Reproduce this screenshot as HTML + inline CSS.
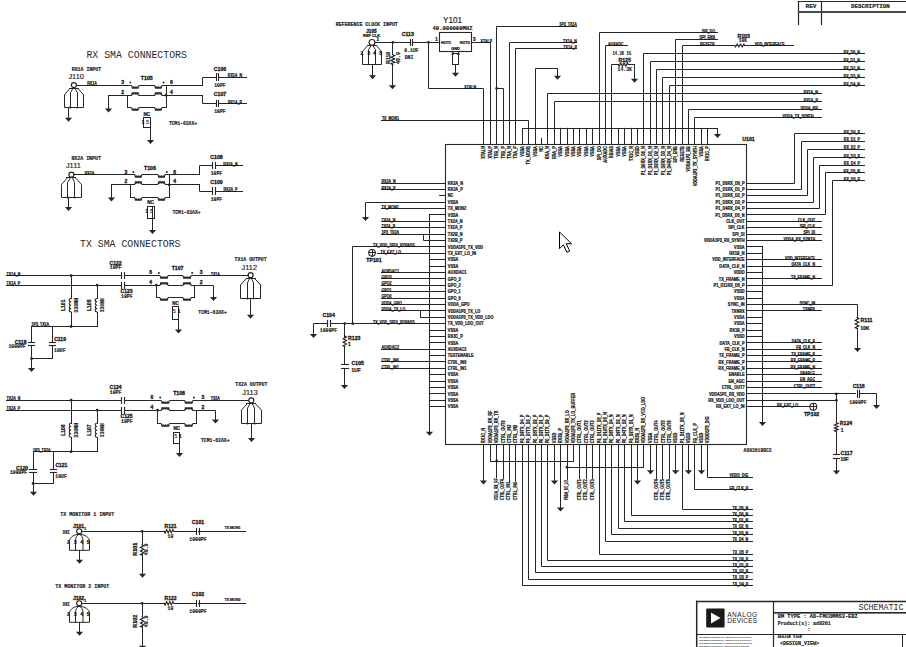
<!DOCTYPE html>
<html><head><meta charset="utf-8"><style>
html,body{margin:0;padding:0;background:#fff;width:906px;height:647px;overflow:hidden}
svg{display:block}
text{fill:#1e1e1e;stroke:#000;stroke-width:0.22px}
.b{font-family:"Liberation Sans",sans-serif;font-weight:bold}
.s{font-family:"Liberation Sans",sans-serif;stroke:#111;stroke-width:0.15px}
.sb{font-family:"Liberation Sans",sans-serif;font-weight:bold;stroke:#111;stroke-width:0.3px}
.t{stroke:none}
.s2{font-family:"Liberation Sans",sans-serif;fill:#222}
.m{font-family:"Liberation Mono",monospace;stroke:none}
.mb{font-family:"Liberation Mono",monospace;font-weight:bold;stroke:#111;stroke-width:0.15px}
.mono{font-family:"Liberation Mono",monospace;fill:#2a2a2a;stroke:none}
</style></head><body>
<svg width="906" height="647" viewBox="0 0 906 647" stroke="#262626" stroke-width="1" stroke-linecap="square">
<rect x="0" y="0" width="906" height="647" fill="#fff" stroke="none"/>
<rect x="445.5" y="144.5" width="301" height="300" fill="none" stroke-width="1.1"/>
<text x="748.5" y="140.8" font-size="5.2" class="sb" text-anchor="middle">U101</text>
<text x="757.6" y="452.3" font-size="5" class="mb" text-anchor="middle" textLength="28" lengthAdjust="spacingAndGlyphs">AD9361BBC2</text>
<text x="485.5" y="146.1" font-size="4.5" class="b" text-anchor="end" transform="rotate(-90 485.5 146.1)" textLength="12.61" lengthAdjust="spacingAndGlyphs">XTALN</text>
<text x="491.9" y="146.1" font-size="4.5" class="b" text-anchor="end" transform="rotate(-90 491.9 146.1)" textLength="12.40" lengthAdjust="spacingAndGlyphs">XTALP</text>
<text x="498.29" y="146.1" font-size="4.5" class="b" text-anchor="end" transform="rotate(-90 498.29 146.1)" textLength="12.69" lengthAdjust="spacingAndGlyphs">TXB_N</text>
<text x="504.69" y="146.1" font-size="4.5" class="b" text-anchor="end" transform="rotate(-90 504.69 146.1)" textLength="12.47" lengthAdjust="spacingAndGlyphs">TXB_P</text>
<text x="511.08" y="146.1" font-size="4.5" class="b" text-anchor="end" transform="rotate(-90 511.08 146.1)" textLength="12.69" lengthAdjust="spacingAndGlyphs">TXA_N</text>
<text x="517.48" y="146.1" font-size="4.5" class="b" text-anchor="end" transform="rotate(-90 517.48 146.1)" textLength="12.47" lengthAdjust="spacingAndGlyphs">TXA_P</text>
<text x="523.88" y="146.1" font-size="4.5" class="b" text-anchor="end" transform="rotate(-90 523.88 146.1)" textLength="10.54" lengthAdjust="spacingAndGlyphs">VSSA</text>
<text x="530.27" y="146.1" font-size="4.5" class="b" text-anchor="end" transform="rotate(-90 530.27 146.1)" textLength="18.28" lengthAdjust="spacingAndGlyphs">TX_MON1</text>
<text x="536.67" y="146.1" font-size="4.5" class="b" text-anchor="end" transform="rotate(-90 536.67 146.1)" textLength="10.54" lengthAdjust="spacingAndGlyphs">VSSA</text>
<text x="543.06" y="146.1" font-size="4.5" class="b" text-anchor="end" transform="rotate(-90 543.06 146.1)" textLength="5.59" lengthAdjust="spacingAndGlyphs">NC</text>
<text x="549.46" y="146.1" font-size="4.5" class="b" text-anchor="end" transform="rotate(-90 549.46 146.1)" textLength="13.12" lengthAdjust="spacingAndGlyphs">RXA_N</text>
<text x="555.86" y="146.1" font-size="4.5" class="b" text-anchor="end" transform="rotate(-90 555.86 146.1)" textLength="12.90" lengthAdjust="spacingAndGlyphs">RXA_P</text>
<text x="562.25" y="146.1" font-size="4.5" class="b" text-anchor="end" transform="rotate(-90 562.25 146.1)" textLength="10.54" lengthAdjust="spacingAndGlyphs">VSSA</text>
<text x="568.65" y="146.1" font-size="4.5" class="b" text-anchor="end" transform="rotate(-90 568.65 146.1)" textLength="10.54" lengthAdjust="spacingAndGlyphs">VSSA</text>
<text x="575.04" y="146.1" font-size="4.5" class="b" text-anchor="end" transform="rotate(-90 575.04 146.1)" textLength="10.54" lengthAdjust="spacingAndGlyphs">VSSA</text>
<text x="581.44" y="146.1" font-size="4.5" class="b" text-anchor="end" transform="rotate(-90 581.44 146.1)" textLength="10.54" lengthAdjust="spacingAndGlyphs">VSSA</text>
<text x="587.84" y="146.1" font-size="4.5" class="b" text-anchor="end" transform="rotate(-90 587.84 146.1)" textLength="10.54" lengthAdjust="spacingAndGlyphs">VSSA</text>
<text x="594.23" y="146.1" font-size="4.5" class="b" text-anchor="end" transform="rotate(-90 594.23 146.1)" textLength="10.54" lengthAdjust="spacingAndGlyphs">VSSA</text>
<text x="600.63" y="146.1" font-size="4.5" class="b" text-anchor="end" transform="rotate(-90 600.63 146.1)" textLength="14.20" lengthAdjust="spacingAndGlyphs">SPI_DO</text>
<text x="607.02" y="146.1" font-size="4.5" class="b" text-anchor="end" transform="rotate(-90 607.02 146.1)" textLength="16.56" lengthAdjust="spacingAndGlyphs">AUXADC</text>
<text x="613.42" y="146.1" font-size="4.5" class="b" text-anchor="end" transform="rotate(-90 613.42 146.1)" textLength="12.04" lengthAdjust="spacingAndGlyphs">RBIAS</text>
<text x="619.82" y="146.1" font-size="4.5" class="b" text-anchor="end" transform="rotate(-90 619.82 146.1)" textLength="10.54" lengthAdjust="spacingAndGlyphs">VSSA</text>
<text x="626.21" y="146.1" font-size="4.5" class="b" text-anchor="end" transform="rotate(-90 626.21 146.1)" textLength="10.54" lengthAdjust="spacingAndGlyphs">VSSA</text>
<text x="632.61" y="146.1" font-size="4.5" class="b" text-anchor="end" transform="rotate(-90 632.61 146.1)" textLength="14.84" lengthAdjust="spacingAndGlyphs">TX1C_N</text>
<text x="639" y="146.1" font-size="4.5" class="b" text-anchor="end" transform="rotate(-90 639 146.1)" textLength="10.54" lengthAdjust="spacingAndGlyphs">VSSD</text>
<text x="645.4" y="146.1" font-size="4.5" class="b" text-anchor="end" transform="rotate(-90 645.4 146.1)" textLength="29.25" lengthAdjust="spacingAndGlyphs">P1_D0RX_D0_N</text>
<text x="651.8" y="146.1" font-size="4.5" class="b" text-anchor="end" transform="rotate(-90 651.8 146.1)" textLength="29.25" lengthAdjust="spacingAndGlyphs">P1_D1RX_D1_N</text>
<text x="658.19" y="146.1" font-size="4.5" class="b" text-anchor="end" transform="rotate(-90 658.19 146.1)" textLength="29.25" lengthAdjust="spacingAndGlyphs">P1_D2RX_D2_N</text>
<text x="664.59" y="146.1" font-size="4.5" class="b" text-anchor="end" transform="rotate(-90 664.59 146.1)" textLength="29.25" lengthAdjust="spacingAndGlyphs">P1_D3RX_D3_N</text>
<text x="670.98" y="146.1" font-size="4.5" class="b" text-anchor="end" transform="rotate(-90 670.98 146.1)" textLength="29.25" lengthAdjust="spacingAndGlyphs">P1_D4RX_D4_N</text>
<text x="677.38" y="146.1" font-size="4.5" class="b" text-anchor="end" transform="rotate(-90 677.38 146.1)" textLength="16.56" lengthAdjust="spacingAndGlyphs">SPI_ENB</text>
<text x="683.78" y="146.1" font-size="4.5" class="b" text-anchor="end" transform="rotate(-90 683.78 146.1)" textLength="15.70" lengthAdjust="spacingAndGlyphs">RESETB</text>
<text x="690.17" y="146.1" font-size="4.5" class="b" text-anchor="end" transform="rotate(-90 690.17 146.1)" textLength="25.59" lengthAdjust="spacingAndGlyphs">VDDA1P3_BB</text>
<text x="696.57" y="146.1" font-size="4.5" class="b" text-anchor="end" transform="rotate(-90 696.57 146.1)" textLength="40.22" lengthAdjust="spacingAndGlyphs">VDDA1P3_TX_SYNTH</text>
<text x="702.96" y="146.1" font-size="4.5" class="b" text-anchor="end" transform="rotate(-90 702.96 146.1)" textLength="10.54" lengthAdjust="spacingAndGlyphs">VSSA</text>
<text x="709.36" y="146.1" font-size="4.5" class="b" text-anchor="end" transform="rotate(-90 709.36 146.1)" textLength="15.06" lengthAdjust="spacingAndGlyphs">RX1C_P</text>
<text x="485.5" y="443.2" font-size="4.5" class="b" transform="rotate(-90 485.5 443.2)" textLength="15.27" lengthAdjust="spacingAndGlyphs">RX1C_N</text>
<text x="491.9" y="443.2" font-size="4.5" class="b" transform="rotate(-90 491.9 443.2)" textLength="32.69" lengthAdjust="spacingAndGlyphs">VDDA1P3_RX_RF</text>
<text x="498.29" y="443.2" font-size="4.5" class="b" transform="rotate(-90 498.29 443.2)" textLength="32.48" lengthAdjust="spacingAndGlyphs">VDDA1P3_RX_TX</text>
<text x="504.69" y="443.2" font-size="4.5" class="b" transform="rotate(-90 504.69 443.2)" textLength="22.79" lengthAdjust="spacingAndGlyphs">CTRL_OUT0</text>
<text x="511.08" y="443.2" font-size="4.5" class="b" transform="rotate(-90 511.08 443.2)" textLength="18.49" lengthAdjust="spacingAndGlyphs">CTRL_IN3</text>
<text x="517.48" y="443.2" font-size="4.5" class="b" transform="rotate(-90 517.48 443.2)" textLength="18.49" lengthAdjust="spacingAndGlyphs">CTRL_IN2</text>
<text x="523.88" y="443.2" font-size="4.5" class="b" transform="rotate(-90 523.88 443.2)" textLength="28.61" lengthAdjust="spacingAndGlyphs">P0_D9TX_D4_P</text>
<text x="530.27" y="443.2" font-size="4.5" class="b" transform="rotate(-90 530.27 443.2)" textLength="28.61" lengthAdjust="spacingAndGlyphs">P0_D7TX_D3_P</text>
<text x="536.67" y="443.2" font-size="4.5" class="b" transform="rotate(-90 536.67 443.2)" textLength="28.61" lengthAdjust="spacingAndGlyphs">P0_D5TX_D2_P</text>
<text x="543.06" y="443.2" font-size="4.5" class="b" transform="rotate(-90 543.06 443.2)" textLength="28.61" lengthAdjust="spacingAndGlyphs">P0_D3TX_D1_P</text>
<text x="549.46" y="443.2" font-size="4.5" class="b" transform="rotate(-90 549.46 443.2)" textLength="28.61" lengthAdjust="spacingAndGlyphs">P0_D1TX_D0_P</text>
<text x="555.86" y="443.2" font-size="4.5" class="b" transform="rotate(-90 555.86 443.2)" textLength="10.54" lengthAdjust="spacingAndGlyphs">VSSD</text>
<text x="562.25" y="443.2" font-size="4.5" class="b" transform="rotate(-90 562.25 443.2)" textLength="15.06" lengthAdjust="spacingAndGlyphs">RX3B_P</text>
<text x="568.65" y="443.2" font-size="4.5" class="b" transform="rotate(-90 568.65 443.2)" textLength="32.91" lengthAdjust="spacingAndGlyphs">VDDA1P3_RX_LO</text>
<text x="575.04" y="443.2" font-size="4.5" class="b" transform="rotate(-90 575.04 443.2)" textLength="50.32" lengthAdjust="spacingAndGlyphs">VDDA1P3_TX_LO_BUFFER</text>
<text x="581.44" y="443.2" font-size="4.5" class="b" transform="rotate(-90 581.44 443.2)" textLength="22.79" lengthAdjust="spacingAndGlyphs">CTRL_OUT1</text>
<text x="587.84" y="443.2" font-size="4.5" class="b" transform="rotate(-90 587.84 443.2)" textLength="22.79" lengthAdjust="spacingAndGlyphs">CTRL_OUT2</text>
<text x="594.23" y="443.2" font-size="4.5" class="b" transform="rotate(-90 594.23 443.2)" textLength="22.79" lengthAdjust="spacingAndGlyphs">CTRL_OUT3</text>
<text x="600.63" y="443.2" font-size="4.5" class="b" transform="rotate(-90 600.63 443.2)" textLength="30.55" lengthAdjust="spacingAndGlyphs">P0_D11TX_D5_P</text>
<text x="607.02" y="443.2" font-size="4.5" class="b" transform="rotate(-90 607.02 443.2)" textLength="30.98" lengthAdjust="spacingAndGlyphs">P0_D10TX_D5_N</text>
<text x="613.42" y="443.2" font-size="4.5" class="b" transform="rotate(-90 613.42 443.2)" textLength="28.82" lengthAdjust="spacingAndGlyphs">P0_D8TX_D4_N</text>
<text x="619.82" y="443.2" font-size="4.5" class="b" transform="rotate(-90 619.82 443.2)" textLength="28.82" lengthAdjust="spacingAndGlyphs">P0_D6TX_D3_N</text>
<text x="626.21" y="443.2" font-size="4.5" class="b" transform="rotate(-90 626.21 443.2)" textLength="28.82" lengthAdjust="spacingAndGlyphs">P0_D4TX_D2_N</text>
<text x="632.61" y="443.2" font-size="4.5" class="b" transform="rotate(-90 632.61 443.2)" textLength="28.82" lengthAdjust="spacingAndGlyphs">P0_D2TX_D1_N</text>
<text x="639" y="443.2" font-size="4.5" class="b" transform="rotate(-90 639 443.2)" textLength="15.27" lengthAdjust="spacingAndGlyphs">RX3B_N</text>
<text x="645.4" y="443.2" font-size="4.5" class="b" transform="rotate(-90 645.4 443.2)" textLength="46.24" lengthAdjust="spacingAndGlyphs">VDDA1P3_RX_VCO_LDO</text>
<text x="651.8" y="443.2" font-size="4.5" class="b" transform="rotate(-90 651.8 443.2)" textLength="10.54" lengthAdjust="spacingAndGlyphs">VSSA</text>
<text x="658.19" y="443.2" font-size="4.5" class="b" transform="rotate(-90 658.19 443.2)" textLength="22.79" lengthAdjust="spacingAndGlyphs">CTRL_OUT4</text>
<text x="664.59" y="443.2" font-size="4.5" class="b" transform="rotate(-90 664.59 443.2)" textLength="22.79" lengthAdjust="spacingAndGlyphs">CTRL_OUT5</text>
<text x="670.98" y="443.2" font-size="4.5" class="b" transform="rotate(-90 670.98 443.2)" textLength="22.79" lengthAdjust="spacingAndGlyphs">CTRL_OUT6</text>
<text x="677.38" y="443.2" font-size="4.5" class="b" transform="rotate(-90 677.38 443.2)" textLength="10.54" lengthAdjust="spacingAndGlyphs">VSSD</text>
<text x="683.78" y="443.2" font-size="4.5" class="b" transform="rotate(-90 683.78 443.2)" textLength="30.76" lengthAdjust="spacingAndGlyphs">P1_D11TX_D5_N</text>
<text x="690.17" y="443.2" font-size="4.5" class="b" transform="rotate(-90 690.17 443.2)" textLength="10.54" lengthAdjust="spacingAndGlyphs">VSSD</text>
<text x="696.57" y="443.2" font-size="4.5" class="b" transform="rotate(-90 696.57 443.2)" textLength="20.00" lengthAdjust="spacingAndGlyphs">FB_CLK_P</text>
<text x="702.96" y="443.2" font-size="4.5" class="b" transform="rotate(-90 702.96 443.2)" textLength="10.54" lengthAdjust="spacingAndGlyphs">VSSD</text>
<text x="709.36" y="443.2" font-size="4.5" class="b" transform="rotate(-90 709.36 443.2)" textLength="26.88" lengthAdjust="spacingAndGlyphs">VDDD1P3_DIG</text>
<text x="447.8" y="184.7" font-size="4.5" class="b" textLength="15.27" lengthAdjust="spacingAndGlyphs">RX2A_N</text>
<text x="447.8" y="191.09" font-size="4.5" class="b" textLength="15.06" lengthAdjust="spacingAndGlyphs">RX2A_P</text>
<text x="447.8" y="197.48" font-size="4.5" class="b" textLength="5.59" lengthAdjust="spacingAndGlyphs">NC</text>
<text x="447.8" y="203.88" font-size="4.5" class="b" textLength="10.54" lengthAdjust="spacingAndGlyphs">VSSA</text>
<text x="447.8" y="210.27" font-size="4.5" class="b" textLength="18.28" lengthAdjust="spacingAndGlyphs">TX_MON2</text>
<text x="447.8" y="216.66" font-size="4.5" class="b" textLength="10.54" lengthAdjust="spacingAndGlyphs">VSSA</text>
<text x="447.8" y="223.05" font-size="4.5" class="b" textLength="14.84" lengthAdjust="spacingAndGlyphs">TX2A_N</text>
<text x="447.8" y="229.44" font-size="4.5" class="b" textLength="14.63" lengthAdjust="spacingAndGlyphs">TX2A_P</text>
<text x="447.8" y="235.84" font-size="4.5" class="b" textLength="14.84" lengthAdjust="spacingAndGlyphs">TX2B_N</text>
<text x="447.8" y="242.23" font-size="4.5" class="b" textLength="14.63" lengthAdjust="spacingAndGlyphs">TX2B_P</text>
<text x="447.8" y="248.62" font-size="4.5" class="b" textLength="35.27" lengthAdjust="spacingAndGlyphs">VDDA1P1_TX_VDD</text>
<text x="447.8" y="255.01" font-size="4.5" class="b" textLength="28.17" lengthAdjust="spacingAndGlyphs">TX_EXT_LO_IN</text>
<text x="447.8" y="261.4" font-size="4.5" class="b" textLength="10.54" lengthAdjust="spacingAndGlyphs">VSSA</text>
<text x="447.8" y="267.8" font-size="4.5" class="b" textLength="10.54" lengthAdjust="spacingAndGlyphs">VSSA</text>
<text x="447.8" y="274.19" font-size="4.5" class="b" textLength="18.71" lengthAdjust="spacingAndGlyphs">AUXDAC1</text>
<text x="447.8" y="280.58" font-size="4.5" class="b" textLength="12.91" lengthAdjust="spacingAndGlyphs">GPO_3</text>
<text x="447.8" y="286.97" font-size="4.5" class="b" textLength="12.91" lengthAdjust="spacingAndGlyphs">GPO_2</text>
<text x="447.8" y="293.36" font-size="4.5" class="b" textLength="12.91" lengthAdjust="spacingAndGlyphs">GPO_1</text>
<text x="447.8" y="299.76" font-size="4.5" class="b" textLength="12.91" lengthAdjust="spacingAndGlyphs">GPO_0</text>
<text x="447.8" y="306.15" font-size="4.5" class="b" textLength="21.72" lengthAdjust="spacingAndGlyphs">VDDA_GPO</text>
<text x="447.8" y="312.54" font-size="4.5" class="b" textLength="32.47" lengthAdjust="spacingAndGlyphs">VDDA1P3_TX_LO</text>
<text x="447.8" y="318.93" font-size="4.5" class="b" textLength="45.59" lengthAdjust="spacingAndGlyphs">VDDA1P3_TX_VDD_LDO</text>
<text x="447.8" y="325.32" font-size="4.5" class="b" textLength="35.91" lengthAdjust="spacingAndGlyphs">TX_VDD_LDO_OUT</text>
<text x="447.8" y="331.72" font-size="4.5" class="b" textLength="10.54" lengthAdjust="spacingAndGlyphs">VSSA</text>
<text x="447.8" y="338.11" font-size="4.5" class="b" textLength="15.06" lengthAdjust="spacingAndGlyphs">RX3C_P</text>
<text x="447.8" y="344.5" font-size="4.5" class="b" textLength="10.54" lengthAdjust="spacingAndGlyphs">VSSA</text>
<text x="447.8" y="350.89" font-size="4.5" class="b" textLength="18.71" lengthAdjust="spacingAndGlyphs">AUXDAC2</text>
<text x="447.8" y="357.28" font-size="4.5" class="b" textLength="25.80" lengthAdjust="spacingAndGlyphs">TESTENABLE</text>
<text x="447.8" y="363.68" font-size="4.5" class="b" textLength="18.49" lengthAdjust="spacingAndGlyphs">CTRL_IN0</text>
<text x="447.8" y="370.07" font-size="4.5" class="b" textLength="18.49" lengthAdjust="spacingAndGlyphs">CTRL_IN1</text>
<text x="447.8" y="376.46" font-size="4.5" class="b" textLength="10.54" lengthAdjust="spacingAndGlyphs">VSSA</text>
<text x="447.8" y="382.85" font-size="4.5" class="b" textLength="10.54" lengthAdjust="spacingAndGlyphs">VSSA</text>
<text x="447.8" y="389.24" font-size="4.5" class="b" textLength="10.54" lengthAdjust="spacingAndGlyphs">VSSA</text>
<text x="447.8" y="395.64" font-size="4.5" class="b" textLength="10.54" lengthAdjust="spacingAndGlyphs">VSSA</text>
<text x="447.8" y="402.03" font-size="4.5" class="b" textLength="10.54" lengthAdjust="spacingAndGlyphs">VSSA</text>
<text x="447.8" y="408.42" font-size="4.5" class="b" textLength="10.54" lengthAdjust="spacingAndGlyphs">VSSA</text>
<text x="744.6" y="184.7" font-size="4.5" class="b" text-anchor="end" textLength="29.04" lengthAdjust="spacingAndGlyphs">P1_D0RX_D0_P</text>
<text x="744.6" y="191.09" font-size="4.5" class="b" text-anchor="end" textLength="29.04" lengthAdjust="spacingAndGlyphs">P1_D1RX_D1_P</text>
<text x="744.6" y="197.48" font-size="4.5" class="b" text-anchor="end" textLength="29.04" lengthAdjust="spacingAndGlyphs">P1_D2RX_D2_P</text>
<text x="744.6" y="203.88" font-size="4.5" class="b" text-anchor="end" textLength="29.04" lengthAdjust="spacingAndGlyphs">P1_D3RX_D3_P</text>
<text x="744.6" y="210.27" font-size="4.5" class="b" text-anchor="end" textLength="29.04" lengthAdjust="spacingAndGlyphs">P1_D4RX_D4_P</text>
<text x="744.6" y="216.66" font-size="4.5" class="b" text-anchor="end" textLength="29.25" lengthAdjust="spacingAndGlyphs">P1_D5RX_D5_N</text>
<text x="744.6" y="223.05" font-size="4.5" class="b" text-anchor="end" textLength="18.27" lengthAdjust="spacingAndGlyphs">CLK_OUT</text>
<text x="744.6" y="229.44" font-size="4.5" class="b" text-anchor="end" textLength="16.34" lengthAdjust="spacingAndGlyphs">SPI_CLK</text>
<text x="744.6" y="235.84" font-size="4.5" class="b" text-anchor="end" textLength="12.26" lengthAdjust="spacingAndGlyphs">SPI_DI</text>
<text x="744.6" y="242.23" font-size="4.5" class="b" text-anchor="end" textLength="40.65" lengthAdjust="spacingAndGlyphs">VDDA1P3_RX_SYNTH</text>
<text x="744.6" y="248.62" font-size="4.5" class="b" text-anchor="end" textLength="10.54" lengthAdjust="spacingAndGlyphs">VSSA</text>
<text x="744.6" y="255.01" font-size="4.5" class="b" text-anchor="end" textLength="15.27" lengthAdjust="spacingAndGlyphs">RX1B_N</text>
<text x="744.6" y="261.4" font-size="4.5" class="b" text-anchor="end" textLength="32.25" lengthAdjust="spacingAndGlyphs">VDD_INTERFACE</text>
<text x="744.6" y="267.8" font-size="4.5" class="b" text-anchor="end" textLength="25.23" lengthAdjust="spacingAndGlyphs">DATA_CLK_N</text>
<text x="744.6" y="274.19" font-size="4.5" class="b" text-anchor="end" textLength="10.97" lengthAdjust="spacingAndGlyphs">VDDD</text>
<text x="744.6" y="280.58" font-size="4.5" class="b" text-anchor="end" textLength="25.80" lengthAdjust="spacingAndGlyphs">TX_FRAME_N</text>
<text x="744.6" y="286.97" font-size="4.5" class="b" text-anchor="end" textLength="30.98" lengthAdjust="spacingAndGlyphs">P1_D11RX_D5_P</text>
<text x="744.6" y="293.36" font-size="4.5" class="b" text-anchor="end" textLength="10.54" lengthAdjust="spacingAndGlyphs">VSSD</text>
<text x="744.6" y="299.76" font-size="4.5" class="b" text-anchor="end" textLength="10.54" lengthAdjust="spacingAndGlyphs">VSSA</text>
<text x="744.6" y="306.15" font-size="4.5" class="b" text-anchor="end" textLength="16.77" lengthAdjust="spacingAndGlyphs">SYNC_IN</text>
<text x="744.6" y="312.54" font-size="4.5" class="b" text-anchor="end" textLength="13.12" lengthAdjust="spacingAndGlyphs">TXNRX</text>
<text x="744.6" y="318.93" font-size="4.5" class="b" text-anchor="end" textLength="10.54" lengthAdjust="spacingAndGlyphs">VSSA</text>
<text x="744.6" y="325.32" font-size="4.5" class="b" text-anchor="end" textLength="10.54" lengthAdjust="spacingAndGlyphs">VSSA</text>
<text x="744.6" y="331.72" font-size="4.5" class="b" text-anchor="end" textLength="15.06" lengthAdjust="spacingAndGlyphs">RX1B_P</text>
<text x="744.6" y="338.11" font-size="4.5" class="b" text-anchor="end" textLength="10.54" lengthAdjust="spacingAndGlyphs">VSSD</text>
<text x="744.6" y="344.5" font-size="4.5" class="b" text-anchor="end" textLength="25.01" lengthAdjust="spacingAndGlyphs">DATA_CLK_P</text>
<text x="744.6" y="350.89" font-size="4.5" class="b" text-anchor="end" textLength="20.21" lengthAdjust="spacingAndGlyphs">FB_CLK_N</text>
<text x="744.6" y="357.28" font-size="4.5" class="b" text-anchor="end" textLength="25.59" lengthAdjust="spacingAndGlyphs">TX_FRAME_P</text>
<text x="744.6" y="363.68" font-size="4.5" class="b" text-anchor="end" textLength="26.02" lengthAdjust="spacingAndGlyphs">RX_FRAME_P</text>
<text x="744.6" y="370.07" font-size="4.5" class="b" text-anchor="end" textLength="26.23" lengthAdjust="spacingAndGlyphs">RX_FRAME_N</text>
<text x="744.6" y="376.46" font-size="4.5" class="b" text-anchor="end" textLength="15.91" lengthAdjust="spacingAndGlyphs">ENABLE</text>
<text x="744.6" y="382.85" font-size="4.5" class="b" text-anchor="end" textLength="16.13" lengthAdjust="spacingAndGlyphs">EN_AGC</text>
<text x="744.6" y="389.24" font-size="4.5" class="b" text-anchor="end" textLength="22.79" lengthAdjust="spacingAndGlyphs">CTRL_OUT7</text>
<text x="744.6" y="395.64" font-size="4.5" class="b" text-anchor="end" textLength="35.70" lengthAdjust="spacingAndGlyphs">VDDA1P1_RX_VDD</text>
<text x="744.6" y="402.03" font-size="4.5" class="b" text-anchor="end" textLength="36.34" lengthAdjust="spacingAndGlyphs">RX_VDD_LDO_OUT</text>
<text x="744.6" y="408.42" font-size="4.5" class="b" text-anchor="end" textLength="28.60" lengthAdjust="spacingAndGlyphs">RX_EXT_LO_IN</text>
<polyline points="483.5,144.5 483.5,88.5 428.5,88.5 428.5,42.5" fill="none"/>
<text x="464.3" y="88.6" font-size="4.5" class="b" textLength="11.73" lengthAdjust="spacingAndGlyphs">XTALN</text>
<polyline points="490.5,144.5 490.5,42.5 471.5,42.5" fill="none"/>
<text x="480.6" y="42.7" font-size="4.5" class="b" textLength="11.53" lengthAdjust="spacingAndGlyphs">XTALP</text>
<polyline points="496.5,144.5 496.5,26.5 576.5,26.5" fill="none"/>
<text x="576.9" y="26.4" font-size="4.5" class="b" text-anchor="end" textLength="17.61" lengthAdjust="spacingAndGlyphs">1P3_TX1A</text>
<polyline points="496.5,88.5 503.5,88.5 503.5,144.5" fill="none"/>
<circle cx="496.69" cy="88.4" r="1.4" fill="#262626" stroke="none"/>
<polyline points="509.5,144.5 509.5,42.5 576.5,42.5" fill="none"/>
<text x="576.9" y="42.7" font-size="4.5" class="b" text-anchor="end" textLength="13.80" lengthAdjust="spacingAndGlyphs">TX1A_N</text>
<polyline points="515.5,144.5 515.5,48.5 576.5,48.5" fill="none"/>
<text x="576.9" y="48.7" font-size="4.5" class="b" text-anchor="end" textLength="13.61" lengthAdjust="spacingAndGlyphs">TX1A_P</text>
<line x1="522.5" y1="128.5" x2="717.5" y2="128.5"/>
<line x1="522.5" y1="128.5" x2="522.5" y2="144.5"/>
<line x1="560.5" y1="128.5" x2="560.5" y2="144.5"/>
<circle cx="560.65" cy="128.5" r="0.7" fill="#262626" stroke="none"/>
<line x1="567.5" y1="128.5" x2="567.5" y2="144.5"/>
<circle cx="567.05" cy="128.5" r="0.7" fill="#262626" stroke="none"/>
<line x1="573.5" y1="128.5" x2="573.5" y2="144.5"/>
<circle cx="573.44" cy="128.5" r="0.7" fill="#262626" stroke="none"/>
<line x1="579.5" y1="128.5" x2="579.5" y2="144.5"/>
<circle cx="579.84" cy="128.5" r="0.7" fill="#262626" stroke="none"/>
<line x1="586.5" y1="128.5" x2="586.5" y2="144.5"/>
<circle cx="586.24" cy="128.5" r="0.7" fill="#262626" stroke="none"/>
<line x1="592.5" y1="128.5" x2="592.5" y2="144.5"/>
<circle cx="592.63" cy="128.5" r="0.7" fill="#262626" stroke="none"/>
<line x1="618.5" y1="128.5" x2="618.5" y2="144.5"/>
<circle cx="618.22" cy="128.5" r="0.7" fill="#262626" stroke="none"/>
<line x1="624.5" y1="128.5" x2="624.5" y2="144.5"/>
<circle cx="624.61" cy="128.5" r="0.7" fill="#262626" stroke="none"/>
<line x1="631.5" y1="128.5" x2="631.5" y2="144.5"/>
<circle cx="631.01" cy="128.5" r="0.7" fill="#262626" stroke="none"/>
<line x1="637.5" y1="128.5" x2="637.5" y2="144.5"/>
<circle cx="637.4" cy="128.5" r="0.7" fill="#262626" stroke="none"/>
<line x1="701.5" y1="128.5" x2="701.5" y2="144.5"/>
<circle cx="701.36" cy="128.5" r="0.7" fill="#262626" stroke="none"/>
<line x1="707.5" y1="128.5" x2="707.5" y2="144.5"/>
<line x1="717.5" y1="128.5" x2="717.5" y2="135.5"/>
<polygon points="713.9,133.9 721.1,133.9 717.5,137.9" fill="#262626" stroke="none"/>
<polyline points="381.5,120.5 528.5,120.5 528.5,144.5" fill="none"/>
<text x="381.9" y="120.4" font-size="4.5" class="b" textLength="17.00" lengthAdjust="spacingAndGlyphs">TX_MON1</text>
<polyline points="535.5,144.5 535.5,68.5 557.5,68.5" fill="none"/>
<line x1="557.5" y1="68.5" x2="557.5" y2="77.5"/>
<polygon points="553.9,75.7 561.1,75.7 557.5,79.7" fill="#262626" stroke="none"/>
<line x1="541.5" y1="138.5" x2="541.5" y2="144.5"/>
<polyline points="547.5,144.5 547.5,93.5 821.5,93.5" fill="none"/>
<text x="817.8" y="93.7" font-size="4.5" class="b" text-anchor="end" textLength="14.20" lengthAdjust="spacingAndGlyphs">RX1A_N</text>
<polyline points="554.5,144.5 554.5,101.5 821.5,101.5" fill="none"/>
<text x="817.8" y="101.7" font-size="4.5" class="b" text-anchor="end" textLength="14.01" lengthAdjust="spacingAndGlyphs">RX1A_P</text>
<polyline points="599.5,144.5 599.5,32.5 717.5,32.5" fill="none"/>
<text x="715" y="32.7" font-size="4.5" class="b" text-anchor="end" textLength="13.20" lengthAdjust="spacingAndGlyphs">SPI_DO</text>
<polyline points="605.5,144.5 605.5,45.5 627.5,45.5" fill="none"/>
<text x="608" y="45.7" font-size="4.5" class="b" textLength="15.40" lengthAdjust="spacingAndGlyphs">AUXADC</text>
<polyline points="611.5,144.5 611.5,64.5 618.5,64.5" fill="none"/>
<polyline points="618.2,64.6 619.03,66.3 620.7,62.9 622.37,66.3 624.03,62.9 625.7,66.3 627.37,62.9 628.2,64.6" fill="none" stroke-width="1.15"/>
<polyline points="628.5,64.5 634.5,64.5" fill="none"/>
<line x1="634.5" y1="64.5" x2="634.5" y2="80.5"/>
<polygon points="630.9,78.7 638.1,78.7 634.5,82.7" fill="#262626" stroke="none"/>
<text x="624.6" y="62" font-size="5.2" class="sb" text-anchor="middle">R125</text>
<text x="624.8" y="71" font-size="4.8" class="mb" text-anchor="middle">14.3K</text>
<text x="621.8" y="55.2" font-size="4.8" class="mb" text-anchor="middle" textLength="18.5" lengthAdjust="spacingAndGlyphs">14.3K 1%</text>
<polyline points="643.5,144.5 643.5,53.5 864.5,53.5" fill="none"/>
<text x="859.8" y="53.7" font-size="4.5" class="b" text-anchor="end" textLength="16.21" lengthAdjust="spacingAndGlyphs">RX_D0_N</text>
<polyline points="650.5,144.5 650.5,61.5 864.5,61.5" fill="none"/>
<text x="859.8" y="61.7" font-size="4.5" class="b" text-anchor="end" textLength="16.21" lengthAdjust="spacingAndGlyphs">RX_D1_N</text>
<polyline points="656.5,144.5 656.5,69.5 864.5,69.5" fill="none"/>
<text x="859.8" y="69.8" font-size="4.5" class="b" text-anchor="end" textLength="16.21" lengthAdjust="spacingAndGlyphs">RX_D2_N</text>
<polyline points="662.5,144.5 662.5,77.5 864.5,77.5" fill="none"/>
<text x="859.8" y="77.8" font-size="4.5" class="b" text-anchor="end" textLength="16.21" lengthAdjust="spacingAndGlyphs">RX_D3_N</text>
<polyline points="669.5,144.5 669.5,85.5 864.5,85.5" fill="none"/>
<text x="859.8" y="85.7" font-size="4.5" class="b" text-anchor="end" textLength="16.21" lengthAdjust="spacingAndGlyphs">RX_D4_N</text>
<polyline points="675.5,144.5 675.5,39.5 717.5,39.5" fill="none"/>
<text x="715" y="39.3" font-size="4.5" class="b" text-anchor="end" textLength="15.41" lengthAdjust="spacingAndGlyphs">SPI_ENB</text>
<polyline points="682.5,144.5 682.5,45.5 734.5,45.5" fill="none"/>
<text x="714.6" y="45.7" font-size="4.5" class="b" text-anchor="end" textLength="14.60" lengthAdjust="spacingAndGlyphs">RESETB</text>
<polyline points="734.7,45.5 735.53,46.85 737.2,44.15 738.87,46.85 740.53,44.15 742.2,46.85 743.87,44.15 744.7,45.5" fill="none" stroke-width="1.15"/>
<line x1="744.5" y1="45.5" x2="793.5" y2="45.5"/>
<text x="754.7" y="45.7" font-size="4.5" class="b" textLength="30.00" lengthAdjust="spacingAndGlyphs">VDD_INTERFACE</text>
<text x="743.6" y="38" font-size="5.2" class="sb" text-anchor="middle">R103</text>
<text x="743" y="41.8" font-size="4.6" class="mb" text-anchor="middle">10K</text>
<polyline points="688.5,144.5 688.5,109.5 821.5,109.5" fill="none"/>
<text x="817.8" y="109.7" font-size="4.5" class="b" text-anchor="end" textLength="17.40" lengthAdjust="spacingAndGlyphs">VDDA_BB</text>
<polyline points="694.5,144.5 694.5,117.5 821.5,117.5" fill="none"/>
<text x="813.6" y="117.7" font-size="4.5" class="b" text-anchor="end" textLength="31.01" lengthAdjust="spacingAndGlyphs">VDDA_TX_SYNTH</text>
<line x1="762.5" y1="246.5" x2="762.5" y2="420.5"/>
<line x1="762.5" y1="420.5" x2="762.5" y2="423.5"/>
<polygon points="758.9,422 766.1,422 762.5,426" fill="#262626" stroke="none"/>
<line x1="746.5" y1="246.5" x2="762.5" y2="246.5"/>
<line x1="746.5" y1="253.5" x2="762.5" y2="253.5"/>
<circle cx="762.3" cy="253.31" r="0.7" fill="#262626" stroke="none"/>
<line x1="746.5" y1="272.5" x2="762.5" y2="272.5"/>
<circle cx="762.3" cy="272.49" r="0.7" fill="#262626" stroke="none"/>
<line x1="746.5" y1="291.5" x2="762.5" y2="291.5"/>
<circle cx="762.3" cy="291.66" r="0.7" fill="#262626" stroke="none"/>
<line x1="746.5" y1="298.5" x2="762.5" y2="298.5"/>
<circle cx="762.3" cy="298.06" r="0.7" fill="#262626" stroke="none"/>
<line x1="746.5" y1="317.5" x2="762.5" y2="317.5"/>
<circle cx="762.3" cy="317.23" r="0.7" fill="#262626" stroke="none"/>
<line x1="746.5" y1="323.5" x2="762.5" y2="323.5"/>
<circle cx="762.3" cy="323.62" r="0.7" fill="#262626" stroke="none"/>
<line x1="746.5" y1="330.5" x2="762.5" y2="330.5"/>
<circle cx="762.3" cy="330.02" r="0.7" fill="#262626" stroke="none"/>
<line x1="746.5" y1="336.5" x2="762.5" y2="336.5"/>
<circle cx="762.3" cy="336.41" r="0.7" fill="#262626" stroke="none"/>
<polyline points="746.5,183.5 794.5,183.5 794.5,133.5 864.5,133.5" fill="none"/>
<text x="859.8" y="133.5" font-size="4.5" class="b" text-anchor="end" textLength="16.01" lengthAdjust="spacingAndGlyphs">RX_D0_P</text>
<polyline points="746.5,189.5 801.5,189.5 801.5,141.5 864.5,141.5" fill="none"/>
<text x="859.8" y="141.4" font-size="4.5" class="b" text-anchor="end" textLength="16.01" lengthAdjust="spacingAndGlyphs">RX_D1_P</text>
<polyline points="746.5,195.5 807.5,195.5 807.5,149.5 864.5,149.5" fill="none"/>
<text x="859.8" y="149.4" font-size="4.5" class="b" text-anchor="end" textLength="16.01" lengthAdjust="spacingAndGlyphs">RX_D2_P</text>
<polyline points="746.5,202.5 813.5,202.5 813.5,157.5 864.5,157.5" fill="none"/>
<text x="859.8" y="157.5" font-size="4.5" class="b" text-anchor="end" textLength="16.01" lengthAdjust="spacingAndGlyphs">RX_D3_P</text>
<polyline points="746.5,208.5 819.5,208.5 819.5,165.5 864.5,165.5" fill="none"/>
<text x="859.8" y="165.4" font-size="4.5" class="b" text-anchor="end" textLength="16.01" lengthAdjust="spacingAndGlyphs">RX_D4_P</text>
<polyline points="746.5,214.5 825.5,214.5 825.5,172.5 864.5,172.5" fill="none"/>
<text x="859.8" y="173.1" font-size="4.5" class="b" text-anchor="end" textLength="16.21" lengthAdjust="spacingAndGlyphs">RX_D5_N</text>
<polyline points="746.5,285.5 832.5,285.5 832.5,180.5 864.5,180.5" fill="none"/>
<text x="859.8" y="181" font-size="4.5" class="b" text-anchor="end" textLength="16.01" lengthAdjust="spacingAndGlyphs">RX_D5_P</text>
<line x1="746.5" y1="221.5" x2="821.5" y2="221.5"/>
<text x="815" y="221.55" font-size="4.5" class="b" text-anchor="end" textLength="17.00" lengthAdjust="spacingAndGlyphs">CLK_OUT</text>
<line x1="746.5" y1="227.5" x2="821.5" y2="227.5"/>
<text x="815" y="227.94" font-size="4.5" class="b" text-anchor="end" textLength="15.20" lengthAdjust="spacingAndGlyphs">SPI_CLK</text>
<line x1="746.5" y1="234.5" x2="821.5" y2="234.5"/>
<text x="815" y="234.34" font-size="4.5" class="b" text-anchor="end" textLength="11.40" lengthAdjust="spacingAndGlyphs">SPI_DI</text>
<line x1="746.5" y1="240.5" x2="821.5" y2="240.5"/>
<text x="815" y="240.73" font-size="4.5" class="b" text-anchor="end" textLength="31.41" lengthAdjust="spacingAndGlyphs">VDDA_RX_SYNTH</text>
<line x1="746.5" y1="259.5" x2="821.5" y2="259.5"/>
<text x="815" y="259.9" font-size="4.5" class="b" text-anchor="end" textLength="30.00" lengthAdjust="spacingAndGlyphs">VDD_INTERFACE</text>
<line x1="746.5" y1="266.5" x2="821.5" y2="266.5"/>
<text x="815" y="266.3" font-size="4.5" class="b" text-anchor="end" textLength="23.47" lengthAdjust="spacingAndGlyphs">DATA_CLK_N</text>
<line x1="746.5" y1="278.5" x2="821.5" y2="278.5"/>
<text x="815" y="279.08" font-size="4.5" class="b" text-anchor="end" textLength="24.00" lengthAdjust="spacingAndGlyphs">TX_FRAME_N</text>
<line x1="746.5" y1="310.5" x2="821.5" y2="310.5"/>
<text x="815" y="311.04" font-size="4.5" class="b" text-anchor="end" textLength="12.20" lengthAdjust="spacingAndGlyphs">TXNRX</text>
<line x1="746.5" y1="342.5" x2="821.5" y2="342.5"/>
<text x="815" y="343" font-size="4.5" class="b" text-anchor="end" textLength="23.27" lengthAdjust="spacingAndGlyphs">DATA_CLK_P</text>
<line x1="746.5" y1="349.5" x2="821.5" y2="349.5"/>
<text x="815" y="349.39" font-size="4.5" class="b" text-anchor="end" textLength="18.80" lengthAdjust="spacingAndGlyphs">FB_CLK_N</text>
<line x1="746.5" y1="355.5" x2="821.5" y2="355.5"/>
<text x="815" y="355.78" font-size="4.5" class="b" text-anchor="end" textLength="23.80" lengthAdjust="spacingAndGlyphs">TX_FRAME_P</text>
<line x1="746.5" y1="361.5" x2="821.5" y2="361.5"/>
<text x="815" y="362.18" font-size="4.5" class="b" text-anchor="end" textLength="24.20" lengthAdjust="spacingAndGlyphs">RX_FRAME_P</text>
<line x1="746.5" y1="368.5" x2="821.5" y2="368.5"/>
<text x="815" y="368.57" font-size="4.5" class="b" text-anchor="end" textLength="24.40" lengthAdjust="spacingAndGlyphs">RX_FRAME_N</text>
<line x1="746.5" y1="374.5" x2="821.5" y2="374.5"/>
<text x="815" y="374.96" font-size="4.5" class="b" text-anchor="end" textLength="14.80" lengthAdjust="spacingAndGlyphs">ENABLE</text>
<line x1="746.5" y1="381.5" x2="821.5" y2="381.5"/>
<text x="815" y="381.35" font-size="4.5" class="b" text-anchor="end" textLength="15.00" lengthAdjust="spacingAndGlyphs">EN_AGC</text>
<line x1="746.5" y1="387.5" x2="821.5" y2="387.5"/>
<text x="815" y="387.74" font-size="4.5" class="b" text-anchor="end" textLength="21.20" lengthAdjust="spacingAndGlyphs">CTRL_OUT7</text>
<polyline points="746.5,304.5 857.5,304.5 857.5,317.5" fill="none"/>
<text x="815" y="304.65" font-size="4.5" class="b" text-anchor="end" textLength="15.60" lengthAdjust="spacingAndGlyphs">SYNC_IN</text>
<polyline points="857,317.7 858.8,318.61 855.2,320.43 858.8,322.24 855.2,324.06 858.8,325.88 855.2,327.69 857,328.6" fill="none" stroke-width="1.15"/>
<line x1="857.5" y1="328.5" x2="857.5" y2="349.5"/>
<polygon points="853.9,347.9 861.1,347.9 857.5,351.9" fill="#262626" stroke="none"/>
<text x="866.5" y="322" font-size="5.2" class="sb" text-anchor="middle">R111</text>
<text x="865" y="329.5" font-size="4.8" class="b" text-anchor="middle">10K</text>
<line x1="746.5" y1="393.5" x2="855.5" y2="393.5"/>
<rect x="857.3" y="392.94" width="2.6" height="2" fill="#fff" stroke="none"/>
<line x1="857.5" y1="390.5" x2="857.5" y2="397.5" stroke-width="1.1"/>
<line x1="859.5" y1="390.5" x2="859.5" y2="397.5" stroke-width="1.1"/>
<polyline points="860.5,393.5 876.5,393.5 876.5,405.5" fill="none"/>
<line x1="876.5" y1="405.5" x2="876.5" y2="406.5"/>
<polygon points="872.9,405 880.1,405 876.5,409" fill="#262626" stroke="none"/>
<circle cx="836.3" cy="393.94" r="1.4" fill="#262626" stroke="none"/>
<line x1="746.5" y1="400.5" x2="836.5" y2="400.5"/>
<circle cx="836.3" cy="400.33" r="1.4" fill="#262626" stroke="none"/>
<polyline points="836.5,393.5 836.5,422.5" fill="none"/>
<polyline points="836.3,422.7 838.1,423.44 834.5,424.93 838.1,426.41 834.5,427.89 838.1,429.38 834.5,430.86 836.3,431.6" fill="none" stroke-width="1.15"/>
<line x1="836.5" y1="431.5" x2="836.5" y2="470.5"/>
<rect x="835.3" y="454.8" width="2" height="3.6" fill="#fff" stroke="none"/>
<line x1="833.5" y1="454.5" x2="839.5" y2="454.5" stroke-width="1.1"/>
<line x1="833.5" y1="458.5" x2="839.5" y2="458.5" stroke-width="1.1"/>
<line x1="836.5" y1="470.5" x2="836.5" y2="472.5"/>
<polygon points="832.9,470.4 840.1,470.4 836.5,474.4" fill="#262626" stroke="none"/>
<text x="858.7" y="388" font-size="5.2" class="sb" text-anchor="middle">C116</text>
<text x="858" y="404" font-size="4.8" class="mb" text-anchor="middle">1000PF</text>
<text x="839.8" y="425.3" font-size="5.2" class="sb">R124</text>
<text x="840.8" y="432" font-size="4.8" class="b">1</text>
<text x="840.5" y="454.8" font-size="5.2" class="sb">C117</text>
<text x="840.5" y="461" font-size="4.8" class="b">10F</text>
<line x1="746.5" y1="406.5" x2="809.5" y2="406.5"/>
<circle cx="813.3" cy="406.72" r="3.4" fill="none" stroke-width="1.1"/>
<line x1="809.5" y1="406.5" x2="816.5" y2="406.5"/>
<line x1="813.5" y1="403.5" x2="813.5" y2="410.5"/>
<text x="777" y="406.92" font-size="4.5" class="b" textLength="21.01" lengthAdjust="spacingAndGlyphs">RX_EXT_LO</text>
<text x="811.6" y="416" font-size="5.2" class="sb" text-anchor="middle">TP102</text>
<line x1="429.5" y1="214.5" x2="429.5" y2="430.5"/>
<line x1="429.5" y1="430.5" x2="429.5" y2="433.5"/>
<polygon points="425.9,431.7 433.1,431.7 429.5,435.7" fill="#262626" stroke="none"/>
<line x1="429.5" y1="214.5" x2="445.5" y2="214.5"/>
<line x1="429.5" y1="259.5" x2="445.5" y2="259.5"/>
<circle cx="429.6" cy="259.7" r="0.7" fill="#262626" stroke="none"/>
<line x1="429.5" y1="266.5" x2="445.5" y2="266.5"/>
<circle cx="429.6" cy="266.1" r="0.7" fill="#262626" stroke="none"/>
<line x1="429.5" y1="330.5" x2="445.5" y2="330.5"/>
<circle cx="429.6" cy="330.02" r="0.7" fill="#262626" stroke="none"/>
<line x1="429.5" y1="336.5" x2="445.5" y2="336.5"/>
<circle cx="429.6" cy="336.41" r="0.7" fill="#262626" stroke="none"/>
<line x1="429.5" y1="342.5" x2="445.5" y2="342.5"/>
<circle cx="429.6" cy="342.8" r="0.7" fill="#262626" stroke="none"/>
<line x1="429.5" y1="355.5" x2="445.5" y2="355.5"/>
<circle cx="429.6" cy="355.58" r="0.7" fill="#262626" stroke="none"/>
<line x1="429.5" y1="374.5" x2="445.5" y2="374.5"/>
<circle cx="429.6" cy="374.76" r="0.7" fill="#262626" stroke="none"/>
<line x1="429.5" y1="381.5" x2="445.5" y2="381.5"/>
<circle cx="429.6" cy="381.15" r="0.7" fill="#262626" stroke="none"/>
<line x1="429.5" y1="387.5" x2="445.5" y2="387.5"/>
<circle cx="429.6" cy="387.54" r="0.7" fill="#262626" stroke="none"/>
<line x1="429.5" y1="393.5" x2="445.5" y2="393.5"/>
<circle cx="429.6" cy="393.94" r="0.7" fill="#262626" stroke="none"/>
<line x1="429.5" y1="400.5" x2="445.5" y2="400.5"/>
<circle cx="429.6" cy="400.33" r="0.7" fill="#262626" stroke="none"/>
<line x1="429.5" y1="406.5" x2="445.5" y2="406.5"/>
<circle cx="429.6" cy="406.72" r="0.7" fill="#262626" stroke="none"/>
<line x1="381.5" y1="183.5" x2="445.5" y2="183.5"/>
<text x="381.5" y="183.2" font-size="4.5" class="b" textLength="14.20" lengthAdjust="spacingAndGlyphs">RX2A_N</text>
<line x1="381.5" y1="189.5" x2="445.5" y2="189.5"/>
<text x="381.5" y="189.59" font-size="4.5" class="b" textLength="14.01" lengthAdjust="spacingAndGlyphs">RX2A_P</text>
<line x1="381.5" y1="208.5" x2="445.5" y2="208.5"/>
<text x="381.5" y="208.77" font-size="4.5" class="b" textLength="17.00" lengthAdjust="spacingAndGlyphs">TX_MON2</text>
<line x1="381.5" y1="221.5" x2="445.5" y2="221.5"/>
<text x="381.5" y="221.55" font-size="4.5" class="b" textLength="13.80" lengthAdjust="spacingAndGlyphs">TX2A_N</text>
<line x1="381.5" y1="227.5" x2="445.5" y2="227.5"/>
<text x="381.5" y="227.94" font-size="4.5" class="b" textLength="13.61" lengthAdjust="spacingAndGlyphs">TX2A_P</text>
<line x1="381.5" y1="272.5" x2="445.5" y2="272.5"/>
<text x="381.5" y="272.69" font-size="4.5" class="b" textLength="17.40" lengthAdjust="spacingAndGlyphs">AUXDAC1</text>
<line x1="381.5" y1="278.5" x2="445.5" y2="278.5"/>
<text x="381.5" y="279.08" font-size="4.5" class="b" textLength="10.00" lengthAdjust="spacingAndGlyphs">GPO3</text>
<line x1="381.5" y1="285.5" x2="445.5" y2="285.5"/>
<text x="381.5" y="285.47" font-size="4.5" class="b" textLength="10.00" lengthAdjust="spacingAndGlyphs">GPO2</text>
<line x1="381.5" y1="291.5" x2="445.5" y2="291.5"/>
<text x="381.5" y="291.86" font-size="4.5" class="b" textLength="10.00" lengthAdjust="spacingAndGlyphs">GPO1</text>
<line x1="381.5" y1="298.5" x2="445.5" y2="298.5"/>
<text x="381.5" y="298.26" font-size="4.5" class="b" textLength="10.00" lengthAdjust="spacingAndGlyphs">GPO0</text>
<line x1="381.5" y1="304.5" x2="445.5" y2="304.5"/>
<text x="381.5" y="304.65" font-size="4.5" class="b" textLength="20.20" lengthAdjust="spacingAndGlyphs">VDDA_GPO</text>
<line x1="381.5" y1="349.5" x2="445.5" y2="349.5"/>
<text x="381.5" y="349.39" font-size="4.5" class="b" textLength="17.40" lengthAdjust="spacingAndGlyphs">AUXDAC2</text>
<line x1="381.5" y1="361.5" x2="445.5" y2="361.5"/>
<text x="381.5" y="362.18" font-size="4.5" class="b" textLength="17.20" lengthAdjust="spacingAndGlyphs">CTRL_IN0</text>
<line x1="381.5" y1="368.5" x2="445.5" y2="368.5"/>
<text x="381.5" y="368.57" font-size="4.5" class="b" textLength="17.20" lengthAdjust="spacingAndGlyphs">CTRL_IN1</text>
<line x1="439.5" y1="195.5" x2="445.5" y2="195.5"/>
<polyline points="445.5,202.5 365.5,202.5 365.5,215.5" fill="none"/>
<line x1="365.5" y1="214.5" x2="365.5" y2="218.5"/>
<polygon points="361.9,217 369.1,217 365.5,221" fill="#262626" stroke="none"/>
<line x1="381.5" y1="234.5" x2="445.5" y2="234.5"/>
<text x="381.5" y="234.34" font-size="4.5" class="b" textLength="17.61" lengthAdjust="spacingAndGlyphs">1P3_TX2A</text>
<polyline points="423.5,234.5 423.5,240.5 445.5,240.5" fill="none"/>
<polyline points="445.5,246.5 352.5,246.5 352.5,323.5" fill="none"/>
<text x="373" y="247.12" font-size="4.5" class="b" textLength="41.55" lengthAdjust="spacingAndGlyphs">TX_VDD_1P1V_BYPASS</text>
<line x1="377.5" y1="253.5" x2="445.5" y2="253.5"/>
<circle cx="372" cy="252.81" r="3.3" fill="none" stroke-width="1.1"/>
<line x1="368.5" y1="252.5" x2="375.5" y2="252.5"/>
<line x1="372.5" y1="249.5" x2="372.5" y2="256.5"/>
<text x="380.5" y="253.51" font-size="4.5" class="b" textLength="20.60" lengthAdjust="spacingAndGlyphs">TX_EXT_LO</text>
<text x="374" y="262" font-size="5.2" class="sb" text-anchor="middle">TP101</text>
<line x1="381.5" y1="310.5" x2="445.5" y2="310.5"/>
<text x="381.5" y="311.04" font-size="4.5" class="b" textLength="23.80" lengthAdjust="spacingAndGlyphs">VDDA_TX_LO</text>
<polyline points="420.5,310.5 420.5,317.5 445.5,317.5" fill="none"/>
<polyline points="445.5,323.5 330.5,323.5" fill="none"/>
<text x="373" y="323.82" font-size="4.5" class="b" textLength="41.55" lengthAdjust="spacingAndGlyphs">TX_VDD_1P1V_BYPASS</text>
<rect x="327.3" y="322.62" width="3" height="2" fill="#fff" stroke="none"/>
<line x1="327.5" y1="320.5" x2="327.5" y2="326.5" stroke-width="1.1"/>
<line x1="330.5" y1="320.5" x2="330.5" y2="326.5" stroke-width="1.1"/>
<polyline points="327.5,323.5 313.5,323.5 313.5,333.5" fill="none"/>
<line x1="313.5" y1="333.5" x2="313.5" y2="335.5"/>
<polygon points="309.9,333.9 317.1,333.9 313.5,337.9" fill="#262626" stroke="none"/>
<circle cx="344.8" cy="323.62" r="1.4" fill="#262626" stroke="none"/>
<circle cx="352.8" cy="323.62" r="1.4" fill="#262626" stroke="none"/>
<polyline points="344.5,323.5 344.5,337.5" fill="none"/>
<polyline points="344.8,336 346.45,336.89 343.15,338.68 346.45,340.46 343.15,342.24 346.45,344.02 343.15,345.81 344.8,346.7" fill="none" stroke-width="1.15"/>
<line x1="344.5" y1="346.5" x2="344.5" y2="384.5"/>
<rect x="343.8" y="364.95" width="2" height="3.3" fill="#fff" stroke="none"/>
<line x1="341.5" y1="364.5" x2="348.5" y2="364.5" stroke-width="1.1"/>
<line x1="341.5" y1="368.5" x2="348.5" y2="368.5" stroke-width="1.1"/>
<line x1="344.5" y1="384.5" x2="344.5" y2="386.5"/>
<polygon points="340.9,385 348.1,385 344.5,389" fill="#262626" stroke="none"/>
<text x="328.7" y="317" font-size="5.2" class="sb" text-anchor="middle">C104</text>
<text x="328.5" y="332.3" font-size="4.8" class="mb" text-anchor="middle">1000PF</text>
<text x="348" y="340.2" font-size="5.2" class="sb">R123</text>
<text x="348" y="345.6" font-size="4.8" class="b">1</text>
<text x="351.5" y="364.6" font-size="5.2" class="sb">C105</text>
<text x="351.5" y="372" font-size="4.8" class="b">1UF</text>
<line x1="483.5" y1="444.5" x2="483.5" y2="482.5"/>
<polygon points="479.9,480.4 487.1,480.4 483.5,484.4" fill="#262626" stroke="none"/>
<line x1="554.5" y1="444.5" x2="554.5" y2="482.5"/>
<polygon points="550.9,480.4 558.1,480.4 554.5,484.4" fill="#262626" stroke="none"/>
<line x1="560.5" y1="444.5" x2="560.5" y2="509.5"/>
<polygon points="556.9,507.6 564.1,507.6 560.5,511.6" fill="#262626" stroke="none"/>
<line x1="637.5" y1="444.5" x2="637.5" y2="482.5"/>
<polygon points="633.9,480.4 641.1,480.4 637.5,484.4" fill="#262626" stroke="none"/>
<line x1="650.5" y1="444.5" x2="650.5" y2="471.5"/>
<polygon points="646.9,470.2 654.1,470.2 650.5,474.2" fill="#262626" stroke="none"/>
<line x1="675.5" y1="444.5" x2="675.5" y2="471.5"/>
<polygon points="671.9,470.2 679.1,470.2 675.5,474.2" fill="#262626" stroke="none"/>
<line x1="688.5" y1="444.5" x2="688.5" y2="471.5"/>
<polygon points="684.9,470.2 692.1,470.2 688.5,474.2" fill="#262626" stroke="none"/>
<line x1="701.5" y1="444.5" x2="701.5" y2="471.5"/>
<polygon points="697.9,470.2 705.1,470.2 701.5,474.2" fill="#262626" stroke="none"/>
<line x1="490.5" y1="444.5" x2="490.5" y2="461.5"/>
<line x1="490.5" y1="461.5" x2="573.5" y2="461.5"/>
<line x1="573.5" y1="444.5" x2="573.5" y2="461.5"/>
<circle cx="496.69" cy="461" r="1.4" fill="#262626" stroke="none"/>
<line x1="567.5" y1="467.5" x2="643.5" y2="467.5"/>
<line x1="643.5" y1="444.5" x2="643.5" y2="467.5"/>
<circle cx="567.05" cy="467.2" r="1.4" fill="#262626" stroke="none"/>
<line x1="496.5" y1="444.5" x2="496.5" y2="477.5"/>
<text x="497.69" y="500.3" font-size="5" class="b" transform="rotate(-90 497.69 500.3)" textLength="22" lengthAdjust="spacingAndGlyphs">VDDA_RX_RF</text>
<line x1="503.5" y1="444.5" x2="503.5" y2="478.5"/>
<text x="504.09" y="500.3" font-size="5" class="b" transform="rotate(-90 504.09 500.3)" textLength="21" lengthAdjust="spacingAndGlyphs">CTRL_OUT4</text>
<line x1="509.5" y1="444.5" x2="509.5" y2="481.5"/>
<text x="510.48" y="500.3" font-size="5" class="b" transform="rotate(-90 510.48 500.3)" textLength="18.5" lengthAdjust="spacingAndGlyphs">CTRL_IN1</text>
<line x1="515.5" y1="444.5" x2="515.5" y2="481.5"/>
<text x="516.88" y="500.3" font-size="5" class="b" transform="rotate(-90 516.88 500.3)" textLength="18.5" lengthAdjust="spacingAndGlyphs">CTRL_IN0</text>
<line x1="567.5" y1="444.5" x2="567.5" y2="479.5"/>
<text x="568.05" y="500.3" font-size="5" class="b" transform="rotate(-90 568.05 500.3)" textLength="20" lengthAdjust="spacingAndGlyphs">VDDA_RX_LO</text>
<line x1="579.5" y1="444.5" x2="579.5" y2="478.5"/>
<text x="580.84" y="500.3" font-size="5" class="b" transform="rotate(-90 580.84 500.3)" textLength="21" lengthAdjust="spacingAndGlyphs">CTRL_OUT1</text>
<line x1="586.5" y1="444.5" x2="586.5" y2="478.5"/>
<text x="587.24" y="500.3" font-size="5" class="b" transform="rotate(-90 587.24 500.3)" textLength="21" lengthAdjust="spacingAndGlyphs">CTRL_OUT2</text>
<line x1="592.5" y1="444.5" x2="592.5" y2="478.5"/>
<text x="593.63" y="500.3" font-size="5" class="b" transform="rotate(-90 593.63 500.3)" textLength="21" lengthAdjust="spacingAndGlyphs">CTRL_OUT3</text>
<line x1="656.5" y1="444.5" x2="656.5" y2="478.5"/>
<text x="657.59" y="500.3" font-size="5" class="b" transform="rotate(-90 657.59 500.3)" textLength="21" lengthAdjust="spacingAndGlyphs">CTRL_OUT4</text>
<line x1="662.5" y1="444.5" x2="662.5" y2="478.5"/>
<text x="663.99" y="500.3" font-size="5" class="b" transform="rotate(-90 663.99 500.3)" textLength="21" lengthAdjust="spacingAndGlyphs">CTRL_OUT5</text>
<line x1="669.5" y1="444.5" x2="669.5" y2="478.5"/>
<text x="670.38" y="500.3" font-size="5" class="b" transform="rotate(-90 670.38 500.3)" textLength="21" lengthAdjust="spacingAndGlyphs">CTRL_OUT6</text>
<polyline points="522.5,444.5 522.5,585.5 752.5,585.5" fill="none"/>
<text x="748.2" y="585.9" font-size="4.5" class="b" text-anchor="end" textLength="15.61" lengthAdjust="spacingAndGlyphs">TX_D4_P</text>
<polyline points="528.5,444.5 528.5,579.5 752.5,579.5" fill="none"/>
<text x="748.2" y="579.3" font-size="4.5" class="b" text-anchor="end" textLength="15.61" lengthAdjust="spacingAndGlyphs">TX_D3_P</text>
<polyline points="535.5,444.5 535.5,572.5 752.5,572.5" fill="none"/>
<text x="748.2" y="573" font-size="4.5" class="b" text-anchor="end" textLength="15.61" lengthAdjust="spacingAndGlyphs">TX_D2_P</text>
<polyline points="541.5,444.5 541.5,566.5 752.5,566.5" fill="none"/>
<text x="748.2" y="566.9" font-size="4.5" class="b" text-anchor="end" textLength="15.61" lengthAdjust="spacingAndGlyphs">TX_D1_P</text>
<polyline points="547.5,444.5 547.5,560.5 752.5,560.5" fill="none"/>
<text x="748.2" y="560.6" font-size="4.5" class="b" text-anchor="end" textLength="15.61" lengthAdjust="spacingAndGlyphs">TX_D0_P</text>
<polyline points="599.5,444.5 599.5,554.5 752.5,554.5" fill="none"/>
<text x="748.2" y="554.3" font-size="4.5" class="b" text-anchor="end" textLength="15.61" lengthAdjust="spacingAndGlyphs">TX_D5_P</text>
<polyline points="605.5,444.5 605.5,541.5 752.5,541.5" fill="none"/>
<text x="748.2" y="541.4" font-size="4.5" class="b" text-anchor="end" textLength="15.81" lengthAdjust="spacingAndGlyphs">TX_D4_N</text>
<polyline points="611.5,444.5 611.5,534.5 752.5,534.5" fill="none"/>
<text x="748.2" y="534.8" font-size="4.5" class="b" text-anchor="end" textLength="15.81" lengthAdjust="spacingAndGlyphs">TX_D3_N</text>
<polyline points="618.5,444.5 618.5,528.5 752.5,528.5" fill="none"/>
<text x="748.2" y="528.2" font-size="4.5" class="b" text-anchor="end" textLength="15.81" lengthAdjust="spacingAndGlyphs">TX_D2_N</text>
<polyline points="624.5,444.5 624.5,521.5 752.5,521.5" fill="none"/>
<text x="748.2" y="521.9" font-size="4.5" class="b" text-anchor="end" textLength="15.81" lengthAdjust="spacingAndGlyphs">TX_D1_N</text>
<polyline points="631.5,444.5 631.5,515.5 752.5,515.5" fill="none"/>
<text x="748.2" y="515.6" font-size="4.5" class="b" text-anchor="end" textLength="15.81" lengthAdjust="spacingAndGlyphs">TX_D0_N</text>
<polyline points="682.5,444.5 682.5,509.5 752.5,509.5" fill="none"/>
<text x="748.2" y="509.6" font-size="4.5" class="b" text-anchor="end" textLength="15.81" lengthAdjust="spacingAndGlyphs">TX_D5_N</text>
<polyline points="694.5,444.5 694.5,489.5 752.5,489.5" fill="none"/>
<text x="748.2" y="489.8" font-size="4.5" class="b" text-anchor="end" textLength="18.60" lengthAdjust="spacingAndGlyphs">FB_CLK_P</text>
<polyline points="707.5,444.5 707.5,477.5 752.5,477.5" fill="none"/>
<text x="748.2" y="477.4" font-size="4.5" class="b" text-anchor="end" textLength="18.60" lengthAdjust="spacingAndGlyphs">VDDD_DIG</text>
<text x="335.8" y="25.6" font-size="4.9" class="mb" textLength="62" lengthAdjust="spacingAndGlyphs">REFERENCE CLOCK INPUT</text>
<text x="371.4" y="32.6" font-size="4.6" class="sb" text-anchor="middle">J105</text>
<text x="371.6" y="37" font-size="4.4" class="b" text-anchor="middle" textLength="17" lengthAdjust="spacingAndGlyphs">REF CLK</text>
<circle cx="372" cy="42.4" r="2.9" fill="none" stroke-width="1.2"/>
<line x1="375.5" y1="42.5" x2="439.5" y2="42.5"/>
<text x="376.5" y="40.6" font-size="4.5" class="b">1</text>
<path d="M367.5,45.6 L362.5,51.5 L362.5,64.5 L381.5,64.5 L381.5,51.5 L376.5,45.6" fill="none"/>
<line x1="367.5" y1="45.5" x2="376.5" y2="45.5"/>
<path d="M371,45.6 L368.5,50 L368.5,64.6 M373,45.6 L375.5,50 L375.5,64.6" fill="none"/>
<text x="360.5" y="54.5" font-size="4.5" class="b">2</text>
<text x="367.5" y="54.5" font-size="4.5" class="b">3</text>
<text x="373.2" y="54.5" font-size="4.5" class="b">4</text>
<text x="379.2" y="54.5" font-size="4.5" class="b">5</text>
<line x1="372.5" y1="64.5" x2="372.5" y2="76.5"/>
<polygon points="368.9,75.3 376.1,75.3 372.5,79.3" fill="#262626" stroke="none"/>
<circle cx="392.9" cy="42.3" r="1.4" fill="#262626" stroke="none"/>
<line x1="392.5" y1="42.5" x2="392.5" y2="54.5"/>
<polyline points="392.9,54.8 394.8,55.62 391,57.25 394.8,58.88 391,60.52 394.8,62.15 391,63.78 392.9,64.6" fill="none" stroke-width="1.15"/>
<line x1="392.5" y1="64.5" x2="392.5" y2="86.5"/>
<polygon points="388.9,85.2 396.1,85.2 392.5,89.2" fill="#262626" stroke="none"/>
<text x="390" y="57.8" font-size="5" class="sb" text-anchor="middle" transform="rotate(-90 390 57.8)">R110</text>
<text x="399.6" y="58" font-size="5" class="mb" text-anchor="middle" transform="rotate(-90 399.6 58)">49.9</text>
<rect x="410.3" y="41.3" width="2.6" height="2" fill="#fff" stroke="none"/>
<line x1="410.5" y1="39.5" x2="410.5" y2="45.5" stroke-width="1.1"/>
<line x1="412.5" y1="39.5" x2="412.5" y2="45.5" stroke-width="1.1"/>
<text x="407.8" y="35.8" font-size="5.2" class="sb" text-anchor="middle">C113</text>
<text x="411.5" y="52" font-size="4.8" class="mb" text-anchor="middle">0.1UF</text>
<text x="409" y="58.5" font-size="4.8" class="mb" text-anchor="middle">DNI</text>
<circle cx="428.5" cy="42.3" r="1.4" fill="#262626" stroke="none"/>
<rect x="439.5" y="32.5" width="32" height="19" fill="none" stroke-width="1.1"/>
<text x="452.5" y="23" font-size="8.2" class="s" text-anchor="middle">Y101</text>
<text x="452.5" y="30.3" font-size="4.9" class="mb" text-anchor="middle" textLength="40" lengthAdjust="spacingAndGlyphs">40.000000MHZ</text>
<text x="437.8" y="41.3" font-size="4.6" class="b" text-anchor="end">1</text>
<text x="473" y="41.3" font-size="4.6" class="b">3</text>
<text x="441" y="43.8" font-size="3.8" class="b">HOT1</text>
<text x="470" y="43.8" font-size="3.8" class="b" text-anchor="end">HOT2</text>
<text x="455.5" y="50.3" font-size="3.9" class="b" text-anchor="middle">GND</text>
<text x="451.6" y="55" font-size="4.3" class="b">2</text>
<text x="457" y="55" font-size="4.3" class="b">4</text>
<rect x="452.5" y="53.5" width="6" height="11" fill="none"/>
<line x1="455.5" y1="64.5" x2="455.5" y2="74.5"/>
<polygon points="451.9,72.7 459.1,72.7 455.5,76.7" fill="#262626" stroke="none"/>
<text x="136.7" y="58.3" font-size="10.4" class="mono" text-anchor="middle" textLength="100.5" lengthAdjust="spacingAndGlyphs">RX SMA CONNECTORS</text>
<text x="71.7" y="70.8" font-size="4.9" class="mb" textLength="29.5" lengthAdjust="spacingAndGlyphs">RX1A INPUT</text>
<text x="68.4" y="78.8" font-size="7.4" class="s">J110</text>
<circle cx="73.9" cy="85.1" r="2.5" fill="none" stroke-width="1.2"/>
<path d="M69.9,88.3 L64.5,94.8 L64.5,107.5 L83.5,107.5 L83.5,94.8 L77.9,88.3" fill="none" stroke-width="1"/>
<line x1="69.5" y1="88.5" x2="78.5" y2="88.5"/>
<path d="M72.9,88.3 L70.5,92.8 L70.5,107.5 M74.9,88.3 L77.5,92.8 L77.5,107.5" fill="none" stroke-width="1"/>
<circle cx="70.5" cy="107.5" r="1.1" fill="#262626" stroke="none"/>
<circle cx="77.5" cy="107.5" r="1.1" fill="#262626" stroke="none"/>
<line x1="68.5" y1="107.5" x2="68.5" y2="119.5"/>
<polygon points="64.9,117.7 72.1,117.7 68.5,121.7" fill="#262626" stroke="none"/>
<line x1="76.5" y1="85.5" x2="130.5" y2="85.5"/>
<text x="87.2" y="85.3" font-size="4.5" class="b" textLength="9.60" lengthAdjust="spacingAndGlyphs">RX1A</text>
<path d="M130.9,85.5 Q132.1,85.5 132.3,88.1 L138.1,88.1 Q138.3,85.5 139.5,85.5 M132.3,88.1 Q133.27,85.5 134.23,88.1 M134.23,88.1 Q135.2,85.5 136.17,88.1 M136.17,88.1 Q137.13,85.5 138.1,88.1" fill="none" stroke-width="1.1"/>
<line x1="139.5" y1="85.5" x2="154.5" y2="85.5"/>
<path d="M154,85.5 Q155.2,85.5 155.4,88.1 L161.2,88.1 Q161.4,85.5 162.6,85.5 M155.4,88.1 Q156.37,85.5 157.33,88.1 M157.33,88.1 Q158.3,85.5 159.27,88.1 M159.27,88.1 Q160.23,85.5 161.2,88.1" fill="none" stroke-width="1.1"/>
<line x1="162.5" y1="85.5" x2="202.5" y2="85.5"/>
<line x1="108.5" y1="95.5" x2="130.5" y2="95.5"/>
<polyline points="108.5,95.5 108.5,108.5" fill="none"/>
<line x1="108.5" y1="100.5" x2="108.5" y2="110.5"/>
<polygon points="104.9,108.4 112.1,108.4 108.5,112.4" fill="#262626" stroke="none"/>
<path d="M130.9,95.5 Q132.1,95.5 132.3,92.9 L138.1,92.9 Q138.3,95.5 139.5,95.5 M132.3,92.9 Q133.27,95.5 134.23,92.9 M134.23,92.9 Q135.2,95.5 136.17,92.9 M136.17,92.9 Q137.13,95.5 138.1,92.9" fill="none" stroke-width="1.1"/>
<line x1="139.5" y1="95.5" x2="154.5" y2="95.5"/>
<path d="M154,95.5 Q155.2,95.5 155.4,92.9 L161.2,92.9 Q161.4,95.5 162.6,95.5 M155.4,92.9 Q156.37,95.5 157.33,92.9 M157.33,92.9 Q158.3,95.5 159.27,92.9 M159.27,92.9 Q160.23,95.5 161.2,92.9" fill="none" stroke-width="1.1"/>
<line x1="162.5" y1="95.5" x2="202.5" y2="95.5"/>
<line x1="127.5" y1="95.5" x2="127.5" y2="107.5"/>
<line x1="166.5" y1="85.5" x2="166.5" y2="107.5"/>
<circle cx="166" cy="95.2" r="1.4" fill="#262626" stroke="none"/>
<line x1="127.5" y1="107.5" x2="130.5" y2="107.5"/>
<path d="M130.9,107.5 Q132.1,107.5 132.3,110.1 L138.1,110.1 Q138.3,107.5 139.5,107.5 M132.3,110.1 Q133.27,107.5 134.23,110.1 M134.23,110.1 Q135.2,107.5 136.17,110.1 M136.17,110.1 Q137.13,107.5 138.1,110.1" fill="none" stroke-width="1.1"/>
<line x1="139.5" y1="107.5" x2="154.5" y2="107.5"/>
<path d="M154,107.5 Q155.2,107.5 155.4,110.1 L161.2,110.1 Q161.4,107.5 162.6,107.5 M155.4,110.1 Q156.37,107.5 157.33,110.1 M157.33,110.1 Q158.3,107.5 159.27,110.1 M159.27,110.1 Q160.23,107.5 161.2,110.1" fill="none" stroke-width="1.1"/>
<line x1="162.5" y1="107.5" x2="166.5" y2="107.5"/>
<circle cx="130.3" cy="82.5" r="1" fill="#262626" stroke="none"/>
<circle cx="163.6" cy="82.5" r="1" fill="#262626" stroke="none"/>
<text x="121.3" y="83.9" font-size="5" class="sb">3</text>
<text x="121.3" y="93.8" font-size="5" class="sb">2</text>
<text x="170" y="83.9" font-size="5" class="sb">6</text>
<text x="170" y="93.8" font-size="5" class="sb">4</text>
<text x="146.75" y="80.1" font-size="5.2" class="sb" text-anchor="middle">T105</text>
<text x="146.8" y="115.7" font-size="4.6" class="b" text-anchor="middle">NC</text>
<rect x="143.5" y="117.5" width="7" height="10" fill="none"/>
<text x="146.2" y="123.8" font-size="4.6" class="s">5</text>
<text x="141.7" y="123.8" font-size="4.6" class="b">1</text>
<text x="169" y="124.5" font-size="4.9" class="mb" textLength="28" lengthAdjust="spacingAndGlyphs">TCM1-63AX+</text>
<polyline points="202.5,85.5 202.5,77.5 216.5,77.5" fill="none"/>
<rect x="216.2" y="76" width="2.6" height="2" fill="#fff" stroke="none"/>
<line x1="216.5" y1="73.5" x2="216.5" y2="80.5" stroke-width="1.1"/>
<line x1="218.5" y1="73.5" x2="218.5" y2="80.5" stroke-width="1.1"/>
<line x1="218.5" y1="77.5" x2="246.5" y2="77.5"/>
<polyline points="202.5,95.5 202.5,103.5 216.5,103.5" fill="none"/>
<rect x="216.2" y="102.4" width="2.6" height="2" fill="#fff" stroke="none"/>
<line x1="216.5" y1="100.5" x2="216.5" y2="106.5" stroke-width="1.1"/>
<line x1="218.5" y1="100.5" x2="218.5" y2="106.5" stroke-width="1.1"/>
<line x1="218.5" y1="103.5" x2="246.5" y2="103.5"/>
<text x="220" y="70.5" font-size="5.2" class="sb" text-anchor="middle">C106</text>
<text x="220" y="87" font-size="4.8" class="mb" text-anchor="middle">10PF</text>
<text x="220" y="96.4" font-size="5.2" class="sb" text-anchor="middle">C107</text>
<text x="220" y="112.9" font-size="4.8" class="mb" text-anchor="middle">10PF</text>
<text x="242" y="77.2" font-size="4.5" class="b" text-anchor="end" textLength="14.20" lengthAdjust="spacingAndGlyphs">RX1A_N</text>
<text x="242" y="103.6" font-size="4.5" class="b" text-anchor="end" textLength="14.01" lengthAdjust="spacingAndGlyphs">RX1A_P</text>
<text x="71.4" y="160.4" font-size="4.9" class="mb" textLength="29.5" lengthAdjust="spacingAndGlyphs">RX2A INPUT</text>
<text x="65.9" y="168.4" font-size="7.4" class="s">J111</text>
<circle cx="71.4" cy="174.7" r="2.5" fill="none" stroke-width="1.2"/>
<path d="M67.4,177.9 L61.5,184.4 L61.5,197.5 L81.5,197.5 L81.5,184.4 L75.4,177.9" fill="none" stroke-width="1"/>
<line x1="66.5" y1="177.5" x2="75.5" y2="177.5"/>
<path d="M70.4,177.9 L67.5,182.4 L67.5,197.5 M72.4,177.9 L74.5,182.4 L74.5,197.5" fill="none" stroke-width="1"/>
<circle cx="67.5" cy="197.5" r="1.1" fill="#262626" stroke="none"/>
<circle cx="74.5" cy="197.5" r="1.1" fill="#262626" stroke="none"/>
<line x1="68.5" y1="197.5" x2="68.5" y2="208.5"/>
<polygon points="64.9,206.9 72.1,206.9 68.5,210.9" fill="#262626" stroke="none"/>
<line x1="73.5" y1="174.5" x2="134.5" y2="174.5"/>
<text x="84.7" y="174.9" font-size="4.5" class="b" textLength="9.60" lengthAdjust="spacingAndGlyphs">RX2A</text>
<path d="M134,174.5 Q135.2,174.5 135.4,177.1 L141.2,177.1 Q141.4,174.5 142.6,174.5 M135.4,177.1 Q136.37,174.5 137.33,177.1 M137.33,177.1 Q138.3,174.5 139.27,177.1 M139.27,177.1 Q140.23,174.5 141.2,177.1" fill="none" stroke-width="1.1"/>
<line x1="142.5" y1="174.5" x2="157.5" y2="174.5"/>
<path d="M157.2,174.5 Q158.4,174.5 158.6,177.1 L164.4,177.1 Q164.6,174.5 165.8,174.5 M158.6,177.1 Q159.57,174.5 160.53,177.1 M160.53,177.1 Q161.5,174.5 162.47,177.1 M162.47,177.1 Q163.43,174.5 164.4,177.1" fill="none" stroke-width="1.1"/>
<line x1="165.5" y1="174.5" x2="199.5" y2="174.5"/>
<line x1="111.5" y1="184.5" x2="134.5" y2="184.5"/>
<polyline points="111.5,184.5 111.5,197.5" fill="none"/>
<line x1="111.5" y1="189.5" x2="111.5" y2="199.5"/>
<polygon points="107.9,197.4 115.1,197.4 111.5,201.4" fill="#262626" stroke="none"/>
<path d="M134,184.5 Q135.2,184.5 135.4,181.9 L141.2,181.9 Q141.4,184.5 142.6,184.5 M135.4,181.9 Q136.37,184.5 137.33,181.9 M137.33,181.9 Q138.3,184.5 139.27,181.9 M139.27,181.9 Q140.23,184.5 141.2,181.9" fill="none" stroke-width="1.1"/>
<line x1="142.5" y1="184.5" x2="157.5" y2="184.5"/>
<path d="M157.2,184.5 Q158.4,184.5 158.6,181.9 L164.4,181.9 Q164.6,184.5 165.8,184.5 M158.6,181.9 Q159.57,184.5 160.53,181.9 M160.53,181.9 Q161.5,184.5 162.47,181.9 M162.47,181.9 Q163.43,184.5 164.4,181.9" fill="none" stroke-width="1.1"/>
<line x1="165.5" y1="184.5" x2="199.5" y2="184.5"/>
<line x1="130.5" y1="184.5" x2="130.5" y2="197.5"/>
<line x1="169.5" y1="174.5" x2="169.5" y2="197.5"/>
<circle cx="169.2" cy="184.8" r="1.4" fill="#262626" stroke="none"/>
<line x1="130.5" y1="197.5" x2="134.5" y2="197.5"/>
<path d="M134,197.5 Q135.2,197.5 135.4,200.1 L141.2,200.1 Q141.4,197.5 142.6,197.5 M135.4,200.1 Q136.37,197.5 137.33,200.1 M137.33,200.1 Q138.3,197.5 139.27,200.1 M139.27,200.1 Q140.23,197.5 141.2,200.1" fill="none" stroke-width="1.1"/>
<line x1="142.5" y1="197.5" x2="157.5" y2="197.5"/>
<path d="M157.2,197.5 Q158.4,197.5 158.6,200.1 L164.4,200.1 Q164.6,197.5 165.8,197.5 M158.6,200.1 Q159.57,197.5 160.53,200.1 M160.53,200.1 Q161.5,197.5 162.47,200.1 M162.47,200.1 Q163.43,197.5 164.4,200.1" fill="none" stroke-width="1.1"/>
<line x1="165.5" y1="197.5" x2="169.5" y2="197.5"/>
<circle cx="133.4" cy="172.1" r="1" fill="#262626" stroke="none"/>
<circle cx="166.8" cy="172.1" r="1" fill="#262626" stroke="none"/>
<text x="124.4" y="173.5" font-size="5" class="sb">3</text>
<text x="124.4" y="183.4" font-size="5" class="sb">2</text>
<text x="173.2" y="173.5" font-size="5" class="sb">6</text>
<text x="173.2" y="183.4" font-size="5" class="sb">4</text>
<text x="149.9" y="169.7" font-size="5.2" class="sb" text-anchor="middle">T106</text>
<text x="150.6" y="204.4" font-size="4.6" class="b" text-anchor="middle">NC</text>
<rect x="147.5" y="206.5" width="7" height="12" fill="none"/>
<text x="150" y="212.5" font-size="4.6" class="s">5</text>
<text x="145.5" y="212.5" font-size="4.6" class="b">1</text>
<text x="172.5" y="213.5" font-size="4.9" class="mb" textLength="28" lengthAdjust="spacingAndGlyphs">TCM1-63AX+</text>
<polyline points="199.5,174.5 199.5,165.5 212.5,165.5" fill="none"/>
<rect x="212.7" y="164.4" width="2.6" height="2" fill="#fff" stroke="none"/>
<line x1="212.5" y1="162.5" x2="212.5" y2="168.5" stroke-width="1.1"/>
<line x1="215.5" y1="162.5" x2="215.5" y2="168.5" stroke-width="1.1"/>
<line x1="215.5" y1="165.5" x2="242.5" y2="165.5"/>
<polyline points="199.5,184.5 199.5,191.5 212.5,191.5" fill="none"/>
<rect x="212.7" y="190.2" width="2.6" height="2" fill="#fff" stroke="none"/>
<line x1="212.5" y1="187.5" x2="212.5" y2="194.5" stroke-width="1.1"/>
<line x1="215.5" y1="187.5" x2="215.5" y2="194.5" stroke-width="1.1"/>
<line x1="215.5" y1="191.5" x2="242.5" y2="191.5"/>
<text x="216.5" y="158.9" font-size="5.2" class="sb" text-anchor="middle">C108</text>
<text x="216.5" y="175.4" font-size="4.8" class="mb" text-anchor="middle">10PF</text>
<text x="216.5" y="184.2" font-size="5.2" class="sb" text-anchor="middle">C109</text>
<text x="216.5" y="200.7" font-size="4.8" class="mb" text-anchor="middle">10PF</text>
<text x="237.5" y="165.6" font-size="4.5" class="b" text-anchor="end" textLength="14.20" lengthAdjust="spacingAndGlyphs">RX2A_N</text>
<text x="237.5" y="191.4" font-size="4.5" class="b" text-anchor="end" textLength="14.01" lengthAdjust="spacingAndGlyphs">RX2A_P</text>
<line x1="150.5" y1="117.5" x2="150.5" y2="141.5"/>
<polygon points="146.9,139.9 154.1,139.9 150.5,143.9" fill="#262626" stroke="none"/>
<line x1="152.5" y1="206.5" x2="152.5" y2="231.5"/>
<polygon points="148.9,230 156.1,230 152.5,234" fill="#262626" stroke="none"/>
<text x="130.3" y="247" font-size="10.4" class="mono" text-anchor="middle" textLength="100.5" lengthAdjust="spacingAndGlyphs">TX SMA CONNECTORS</text>
<line x1="6.5" y1="275.5" x2="121.5" y2="275.5"/>
<line x1="6.5" y1="285.5" x2="121.5" y2="285.5"/>
<text x="6.6" y="275.9" font-size="4.5" class="b" textLength="13.80" lengthAdjust="spacingAndGlyphs">TX1A_N</text>
<text x="6.6" y="285.4" font-size="4.5" class="b" textLength="13.61" lengthAdjust="spacingAndGlyphs">TX1A_P</text>
<rect x="121.1" y="274.7" width="3" height="2" fill="#fff" stroke="none"/>
<line x1="121.5" y1="272.5" x2="121.5" y2="278.5" stroke-width="1.1"/>
<line x1="124.5" y1="272.5" x2="124.5" y2="278.5" stroke-width="1.1"/>
<rect x="121.1" y="284.2" width="3" height="2" fill="#fff" stroke="none"/>
<line x1="121.5" y1="282.5" x2="121.5" y2="288.5" stroke-width="1.1"/>
<line x1="124.5" y1="282.5" x2="124.5" y2="288.5" stroke-width="1.1"/>
<line x1="124.5" y1="275.5" x2="159.5" y2="275.5"/>
<line x1="124.5" y1="285.5" x2="159.5" y2="285.5"/>
<text x="115.6" y="264.9" font-size="5" class="sb" text-anchor="middle">C122</text>
<text x="115.6" y="269.3" font-size="4.8" class="mb" text-anchor="middle">10PF</text>
<text x="126.6" y="293.2" font-size="5" class="sb" text-anchor="middle">C123</text>
<text x="126.8" y="297.8" font-size="4.8" class="mb" text-anchor="middle">10PF</text>
<circle cx="71.1" cy="275.7" r="1.4" fill="#262626" stroke="none"/>
<circle cx="97.1" cy="285.2" r="1.4" fill="#262626" stroke="none"/>
<line x1="71.5" y1="275.5" x2="71.5" y2="298.5"/>
<path d="M71.1,298.5 A2,1.69 0 0 0 71.1,301.88 A2,1.69 0 0 0 71.1,305.25 A2,1.69 0 0 0 71.1,308.62 A2,1.69 0 0 0 71.1,312" fill="none" stroke-width="1.1"/>
<line x1="71.5" y1="312.5" x2="71.5" y2="326.5"/>
<line x1="97.5" y1="285.5" x2="97.5" y2="298.5"/>
<path d="M97.1,298.5 A2,1.69 0 0 0 97.1,301.88 A2,1.69 0 0 0 97.1,305.25 A2,1.69 0 0 0 97.1,308.62 A2,1.69 0 0 0 97.1,312" fill="none" stroke-width="1.1"/>
<line x1="97.5" y1="312.5" x2="97.5" y2="326.5"/>
<text x="64.9" y="305.25" font-size="5" class="sb" text-anchor="middle" transform="rotate(-90 64.9 305.25)">L101</text>
<text x="78" y="305.25" font-size="5" class="mb" text-anchor="middle" transform="rotate(-90 78 305.25)" textLength="15" lengthAdjust="spacingAndGlyphs">330NH</text>
<text x="90.9" y="305.25" font-size="5" class="sb" text-anchor="middle" transform="rotate(-90 90.9 305.25)">L105</text>
<text x="103.9" y="305.25" font-size="5" class="mb" text-anchor="middle" transform="rotate(-90 103.9 305.25)" textLength="14" lengthAdjust="spacingAndGlyphs">330NH</text>
<line x1="31.5" y1="326.5" x2="97.5" y2="326.5"/>
<circle cx="71.1" cy="326.5" r="1.4" fill="#262626" stroke="none"/>
<text x="31.6" y="326.4" font-size="4.5" class="b" textLength="17.61" lengthAdjust="spacingAndGlyphs">1P3_TX1A</text>
<line x1="31.5" y1="326.5" x2="31.5" y2="358.5"/>
<rect x="30.6" y="342.9" width="2" height="3" fill="#fff" stroke="none"/>
<line x1="28.5" y1="342.5" x2="34.5" y2="342.5" stroke-width="1.1"/>
<line x1="28.5" y1="345.5" x2="34.5" y2="345.5" stroke-width="1.1"/>
<line x1="52.5" y1="326.5" x2="52.5" y2="358.5"/>
<rect x="51.3" y="342.9" width="2" height="3" fill="#fff" stroke="none"/>
<line x1="49.5" y1="342.5" x2="55.5" y2="342.5" stroke-width="1.1"/>
<line x1="49.5" y1="345.5" x2="55.5" y2="345.5" stroke-width="1.1"/>
<line x1="31.5" y1="358.5" x2="52.5" y2="358.5"/>
<circle cx="31.6" cy="358.7" r="1.4" fill="#262626" stroke="none"/>
<line x1="31.5" y1="358.5" x2="31.5" y2="369.5"/>
<polygon points="27.9,367.9 35.1,367.9 31.5,371.9" fill="#262626" stroke="none"/>
<text x="20.6" y="343.6" font-size="5" class="sb" text-anchor="middle">C118</text>
<text x="17.1" y="347.6" font-size="4.8" class="mb" text-anchor="middle">1000PF</text>
<text x="60.1" y="340.6" font-size="5" class="sb" text-anchor="middle">C119</text>
<text x="59.8" y="351.6" font-size="4.8" class="mb" text-anchor="middle">10UF</text>
<path d="M159.3,275.5 Q160.5,275.5 160.7,278.1 L167.4,278.1 Q167.6,275.5 168.8,275.5 M160.7,278.1 Q161.82,275.5 162.93,278.1 M162.93,278.1 Q164.05,275.5 165.17,278.1 M165.17,278.1 Q166.28,275.5 167.4,278.1" fill="none" stroke-width="1.1"/>
<line x1="168.5" y1="275.5" x2="182.5" y2="275.5"/>
<path d="M182.3,275.5 Q183.5,275.5 183.7,278.1 L190.4,278.1 Q190.6,275.5 191.8,275.5 M183.7,278.1 Q184.82,275.5 185.93,278.1 M185.93,278.1 Q187.05,275.5 188.17,278.1 M188.17,278.1 Q189.28,275.5 190.4,278.1" fill="none" stroke-width="1.1"/>
<path d="M159.3,285.5 Q160.5,285.5 160.7,282.9 L167.4,282.9 Q167.6,285.5 168.8,285.5 M160.7,282.9 Q161.82,285.5 162.93,282.9 M162.93,282.9 Q164.05,285.5 165.17,282.9 M165.17,282.9 Q166.28,285.5 167.4,282.9" fill="none" stroke-width="1.1"/>
<line x1="168.5" y1="285.5" x2="182.5" y2="285.5"/>
<path d="M182.3,285.5 Q183.5,285.5 183.7,282.9 L190.4,282.9 Q190.6,285.5 191.8,285.5 M183.7,282.9 Q184.82,285.5 185.93,282.9 M185.93,282.9 Q187.05,285.5 188.17,282.9 M188.17,282.9 Q189.28,285.5 190.4,282.9" fill="none" stroke-width="1.1"/>
<line x1="156.5" y1="285.5" x2="156.5" y2="297.5"/>
<circle cx="156.3" cy="285.2" r="1.4" fill="#262626" stroke="none"/>
<line x1="194.5" y1="285.5" x2="194.5" y2="297.5"/>
<line x1="156.5" y1="297.5" x2="159.5" y2="297.5"/>
<path d="M159.3,297.5 Q160.5,297.5 160.7,300.1 L167.4,300.1 Q167.6,297.5 168.8,297.5 M160.7,300.1 Q161.82,297.5 162.93,300.1 M162.93,300.1 Q164.05,297.5 165.17,300.1 M165.17,300.1 Q166.28,297.5 167.4,300.1" fill="none" stroke-width="1.1"/>
<line x1="168.5" y1="297.5" x2="182.5" y2="297.5"/>
<path d="M182.3,297.5 Q183.5,297.5 183.7,300.1 L190.4,300.1 Q190.6,297.5 191.8,297.5 M183.7,300.1 Q184.82,297.5 185.93,300.1 M185.93,300.1 Q187.05,297.5 188.17,300.1 M188.17,300.1 Q189.28,297.5 190.4,300.1" fill="none" stroke-width="1.1"/>
<line x1="191.5" y1="297.5" x2="194.5" y2="297.5"/>
<circle cx="158.9" cy="273.1" r="1" fill="#262626" stroke="none"/>
<circle cx="192.2" cy="273.1" r="1" fill="#262626" stroke="none"/>
<text x="149.3" y="274.3" font-size="5" class="sb">6</text>
<text x="149.3" y="283.8" font-size="5" class="sb">4</text>
<text x="199.8" y="274.3" font-size="5" class="sb">3</text>
<text x="199.8" y="283.8" font-size="5" class="sb">2</text>
<text x="177.55" y="270.2" font-size="5.2" class="sb" text-anchor="middle">T107</text>
<line x1="191.5" y1="275.5" x2="248.5" y2="275.5"/>
<text x="210.7" y="275.9" font-size="4.5" class="b" textLength="9.20" lengthAdjust="spacingAndGlyphs">TX1A</text>
<polyline points="191.5,285.5 213.5,285.5 213.5,296.5" fill="none"/>
<line x1="213.5" y1="296.5" x2="213.5" y2="298.5"/>
<polygon points="209.9,296.9 217.1,296.9 213.5,300.9" fill="#262626" stroke="none"/>
<text x="250.6" y="261.2" font-size="4.9" class="mb" text-anchor="middle" textLength="32" lengthAdjust="spacingAndGlyphs">TX1A OUTPUT</text>
<text x="241.6" y="269.6" font-size="7.4" class="s">J112</text>
<circle cx="250.6" cy="275.2" r="2.5" fill="none" stroke-width="1.2"/>
<path d="M246.6,278.4 L240.5,284.9 L240.5,298.5 L260.5,298.5 L260.5,284.9 L254.6,278.4" fill="none" stroke-width="1"/>
<line x1="246.5" y1="278.5" x2="255.5" y2="278.5"/>
<path d="M249.6,278.4 L247.5,282.9 L247.5,298.5 M251.6,278.4 L253.5,282.9 L253.5,298.5" fill="none" stroke-width="1"/>
<circle cx="247.5" cy="298.5" r="1.1" fill="#262626" stroke="none"/>
<circle cx="253.5" cy="298.5" r="1.1" fill="#262626" stroke="none"/>
<line x1="250.5" y1="298.5" x2="250.5" y2="316.5"/>
<polygon points="246.9,314.8 254.1,314.8 250.5,318.8" fill="#262626" stroke="none"/>
<text x="175.5" y="304.7" font-size="4.6" class="b" text-anchor="middle">NC</text>
<rect x="172.5" y="306.5" width="6" height="13" fill="none"/>
<text x="173.1" y="312.5" font-size="4.6" class="s">5</text>
<text x="177.8" y="312.5" font-size="4.6" class="b">1</text>
<line x1="178.5" y1="319.5" x2="178.5" y2="331.5"/>
<polygon points="174.9,329.4 182.1,329.4 178.5,333.4" fill="#262626" stroke="none"/>
<text x="198.3" y="314" font-size="4.9" class="mb" textLength="28.5" lengthAdjust="spacingAndGlyphs">TCM1-63AX+</text>
<line x1="6.5" y1="400.5" x2="121.5" y2="400.5"/>
<line x1="6.5" y1="410.5" x2="121.5" y2="410.5"/>
<text x="6.6" y="400.4" font-size="4.5" class="b" textLength="13.80" lengthAdjust="spacingAndGlyphs">TX2A_N</text>
<text x="6.6" y="410.4" font-size="4.5" class="b" textLength="13.61" lengthAdjust="spacingAndGlyphs">TX2A_P</text>
<rect x="121.1" y="399.2" width="3" height="2" fill="#fff" stroke="none"/>
<line x1="121.5" y1="397.5" x2="121.5" y2="403.5" stroke-width="1.1"/>
<line x1="124.5" y1="397.5" x2="124.5" y2="403.5" stroke-width="1.1"/>
<rect x="121.1" y="409.2" width="3" height="2" fill="#fff" stroke="none"/>
<line x1="121.5" y1="407.5" x2="121.5" y2="413.5" stroke-width="1.1"/>
<line x1="124.5" y1="407.5" x2="124.5" y2="413.5" stroke-width="1.1"/>
<line x1="124.5" y1="400.5" x2="160.5" y2="400.5"/>
<line x1="124.5" y1="410.5" x2="160.5" y2="410.5"/>
<text x="115.6" y="389.4" font-size="5" class="sb" text-anchor="middle">C124</text>
<text x="115.6" y="393.8" font-size="4.8" class="mb" text-anchor="middle">10PF</text>
<text x="126.6" y="418.2" font-size="5" class="sb" text-anchor="middle">C125</text>
<text x="126.8" y="422.8" font-size="4.8" class="mb" text-anchor="middle">10PF</text>
<circle cx="71.1" cy="400.2" r="1.4" fill="#262626" stroke="none"/>
<circle cx="97.1" cy="410.2" r="1.4" fill="#262626" stroke="none"/>
<line x1="71.5" y1="400.5" x2="71.5" y2="423.5"/>
<path d="M71.1,423 A2,1.79 0 0 0 71.1,426.57 A2,1.79 0 0 0 71.1,430.15 A2,1.79 0 0 0 71.1,433.72 A2,1.79 0 0 0 71.1,437.3" fill="none" stroke-width="1.1"/>
<line x1="71.5" y1="437.5" x2="71.5" y2="451.5"/>
<line x1="97.5" y1="410.5" x2="97.5" y2="423.5"/>
<path d="M97.1,423 A2,1.79 0 0 0 97.1,426.57 A2,1.79 0 0 0 97.1,430.15 A2,1.79 0 0 0 97.1,433.72 A2,1.79 0 0 0 97.1,437.3" fill="none" stroke-width="1.1"/>
<line x1="97.5" y1="437.5" x2="97.5" y2="451.5"/>
<text x="64.9" y="430.15" font-size="5" class="sb" text-anchor="middle" transform="rotate(-90 64.9 430.15)">L106</text>
<text x="78" y="430.15" font-size="5" class="mb" text-anchor="middle" transform="rotate(-90 78 430.15)" textLength="15" lengthAdjust="spacingAndGlyphs">330NH</text>
<text x="90.9" y="430.15" font-size="5" class="sb" text-anchor="middle" transform="rotate(-90 90.9 430.15)">L107</text>
<text x="103.9" y="430.15" font-size="5" class="mb" text-anchor="middle" transform="rotate(-90 103.9 430.15)" textLength="14" lengthAdjust="spacingAndGlyphs">330NH</text>
<line x1="33.5" y1="451.5" x2="97.5" y2="451.5"/>
<circle cx="71.1" cy="451.7" r="1.4" fill="#262626" stroke="none"/>
<text x="33.1" y="451.6" font-size="4.5" class="b" textLength="17.61" lengthAdjust="spacingAndGlyphs">1P3_TX2A</text>
<line x1="33.5" y1="451.5" x2="33.5" y2="483.5"/>
<rect x="32.1" y="469.3" width="2" height="3" fill="#fff" stroke="none"/>
<line x1="29.5" y1="469.5" x2="36.5" y2="469.5" stroke-width="1.1"/>
<line x1="29.5" y1="472.5" x2="36.5" y2="472.5" stroke-width="1.1"/>
<line x1="53.5" y1="451.5" x2="53.5" y2="483.5"/>
<rect x="52.6" y="469.3" width="2" height="3" fill="#fff" stroke="none"/>
<line x1="50.5" y1="469.5" x2="56.5" y2="469.5" stroke-width="1.1"/>
<line x1="50.5" y1="472.5" x2="56.5" y2="472.5" stroke-width="1.1"/>
<line x1="33.5" y1="483.5" x2="53.5" y2="483.5"/>
<circle cx="33.1" cy="483.5" r="1.4" fill="#262626" stroke="none"/>
<line x1="33.5" y1="483.5" x2="33.5" y2="493.5"/>
<polygon points="29.9,491.8 37.1,491.8 33.5,495.8" fill="#262626" stroke="none"/>
<text x="22.1" y="470" font-size="5" class="sb" text-anchor="middle">C120</text>
<text x="18.6" y="474" font-size="4.8" class="mb" text-anchor="middle">1000PF</text>
<text x="61.4" y="467" font-size="5" class="sb" text-anchor="middle">C121</text>
<text x="61.1" y="478" font-size="4.8" class="mb" text-anchor="middle">10UF</text>
<path d="M160.6,400.5 Q161.8,400.5 162,403.1 L168.7,403.1 Q168.9,400.5 170.1,400.5 M162,403.1 Q163.12,400.5 164.23,403.1 M164.23,403.1 Q165.35,400.5 166.47,403.1 M166.47,403.1 Q167.58,400.5 168.7,403.1" fill="none" stroke-width="1.1"/>
<line x1="170.5" y1="400.5" x2="184.5" y2="400.5"/>
<path d="M184,400.5 Q185.2,400.5 185.4,403.1 L192.1,403.1 Q192.3,400.5 193.5,400.5 M185.4,403.1 Q186.52,400.5 187.63,403.1 M187.63,403.1 Q188.75,400.5 189.87,403.1 M189.87,403.1 Q190.98,400.5 192.1,403.1" fill="none" stroke-width="1.1"/>
<path d="M160.6,410.5 Q161.8,410.5 162,407.9 L168.7,407.9 Q168.9,410.5 170.1,410.5 M162,407.9 Q163.12,410.5 164.23,407.9 M164.23,407.9 Q165.35,410.5 166.47,407.9 M166.47,407.9 Q167.58,410.5 168.7,407.9" fill="none" stroke-width="1.1"/>
<line x1="170.5" y1="410.5" x2="184.5" y2="410.5"/>
<path d="M184,410.5 Q185.2,410.5 185.4,407.9 L192.1,407.9 Q192.3,410.5 193.5,410.5 M185.4,407.9 Q186.52,410.5 187.63,407.9 M187.63,407.9 Q188.75,410.5 189.87,407.9 M189.87,407.9 Q190.98,410.5 192.1,407.9" fill="none" stroke-width="1.1"/>
<line x1="157.5" y1="410.5" x2="157.5" y2="423.5"/>
<circle cx="157.6" cy="410.2" r="1.4" fill="#262626" stroke="none"/>
<line x1="196.5" y1="410.5" x2="196.5" y2="423.5"/>
<line x1="157.5" y1="423.5" x2="160.5" y2="423.5"/>
<path d="M160.6,423.5 Q161.8,423.5 162,426.1 L168.7,426.1 Q168.9,423.5 170.1,423.5 M162,426.1 Q163.12,423.5 164.23,426.1 M164.23,426.1 Q165.35,423.5 166.47,426.1 M166.47,426.1 Q167.58,423.5 168.7,426.1" fill="none" stroke-width="1.1"/>
<line x1="170.5" y1="423.5" x2="184.5" y2="423.5"/>
<path d="M184,423.5 Q185.2,423.5 185.4,426.1 L192.1,426.1 Q192.3,423.5 193.5,423.5 M185.4,426.1 Q186.52,423.5 187.63,426.1 M187.63,426.1 Q188.75,423.5 189.87,426.1 M189.87,426.1 Q190.98,423.5 192.1,426.1" fill="none" stroke-width="1.1"/>
<line x1="193.5" y1="423.5" x2="196.5" y2="423.5"/>
<circle cx="160.2" cy="397.6" r="1" fill="#262626" stroke="none"/>
<circle cx="193.9" cy="397.6" r="1" fill="#262626" stroke="none"/>
<text x="150.6" y="398.8" font-size="5" class="sb">6</text>
<text x="150.6" y="408.8" font-size="5" class="sb">4</text>
<text x="201.5" y="398.8" font-size="5" class="sb">3</text>
<text x="201.5" y="408.8" font-size="5" class="sb">2</text>
<text x="179.05" y="394.7" font-size="5.2" class="sb" text-anchor="middle">T108</text>
<line x1="193.5" y1="400.5" x2="248.5" y2="400.5"/>
<text x="210.7" y="400.4" font-size="4.5" class="b" textLength="9.20" lengthAdjust="spacingAndGlyphs">TX2A</text>
<polyline points="193.5,410.5 215.5,410.5 215.5,419.5" fill="none"/>
<line x1="215.5" y1="419.5" x2="215.5" y2="421.5"/>
<polygon points="211.9,419.4 219.1,419.4 215.5,423.4" fill="#262626" stroke="none"/>
<text x="251.3" y="386.4" font-size="4.9" class="mb" text-anchor="middle" textLength="32" lengthAdjust="spacingAndGlyphs">TX2A OUTPUT</text>
<text x="242.3" y="394.8" font-size="7.4" class="s">J113</text>
<circle cx="251.3" cy="400.4" r="2.5" fill="none" stroke-width="1.2"/>
<path d="M247.3,403.6 L241.5,410.1 L241.5,423.5 L261.5,423.5 L261.5,410.1 L255.3,403.6" fill="none" stroke-width="1"/>
<line x1="246.5" y1="403.5" x2="255.5" y2="403.5"/>
<path d="M250.3,403.6 L247.5,408.1 L247.5,423.5 M252.3,403.6 L254.5,408.1 L254.5,423.5" fill="none" stroke-width="1"/>
<circle cx="247.5" cy="423.5" r="1.1" fill="#262626" stroke="none"/>
<circle cx="254.5" cy="423.5" r="1.1" fill="#262626" stroke="none"/>
<line x1="251.5" y1="423.5" x2="251.5" y2="439.5"/>
<polygon points="247.9,438 255.1,438 251.5,442" fill="#262626" stroke="none"/>
<text x="176.8" y="430.2" font-size="4.6" class="b" text-anchor="middle">NC</text>
<rect x="173.5" y="432.5" width="6" height="11" fill="none"/>
<text x="174.4" y="438" font-size="4.6" class="s">5</text>
<text x="179.1" y="438" font-size="4.6" class="b">1</text>
<line x1="179.5" y1="443.5" x2="179.5" y2="454.5"/>
<polygon points="175.9,453 183.1,453 179.5,457" fill="#262626" stroke="none"/>
<text x="201" y="442" font-size="4.9" class="mb" textLength="28.5" lengthAdjust="spacingAndGlyphs">TCM1-63AX+</text>
<text x="60.2" y="515.7" font-size="5" class="mb" textLength="54" lengthAdjust="spacingAndGlyphs">TX MONITOR 1 INPUT</text>
<text x="73" y="527.7" font-size="5" class="sb">J101</text>
<text x="84" y="529.7" font-size="4" class="b">1</text>
<text x="62.8" y="533.5" font-size="4.8" class="mb" textLength="7" lengthAdjust="spacingAndGlyphs">DNI</text>
<circle cx="79.2" cy="531.3" r="2.6" fill="none" stroke-width="1.1"/>
<line x1="81.5" y1="531.5" x2="164.5" y2="531.5"/>
<path d="M79.2,533.9 Q70,535.4 69.5,540.9 L69.5,550.3 L89.5,550.3 L89.5,540.9 Q89,535.4 79.2,533.9" fill="none"/>
<path d="M79.2,533.9 Q75.5,535.9 75.5,540.9 L75.5,550.3 M79.2,533.9 Q83,535.9 83,540.9 L83,550.3" fill="none"/>
<text x="67" y="544.3" font-size="4.6" class="b">2</text>
<text x="74" y="544.3" font-size="4.6" class="b">3</text>
<text x="80.6" y="544.3" font-size="4.6" class="b">4</text>
<text x="86.8" y="544.3" font-size="4.6" class="b">5</text>
<line x1="79.5" y1="550.5" x2="79.5" y2="561.5"/>
<polygon points="75.9,559.7 83.1,559.7 79.5,563.7" fill="#262626" stroke="none"/>
<circle cx="142.1" cy="531.3" r="1.4" fill="#262626" stroke="none"/>
<line x1="142.5" y1="531.5" x2="142.5" y2="544.5"/>
<polyline points="142.1,545 143.8,545.86 140.4,547.58 143.8,549.29 140.4,551.01 143.8,552.72 140.4,554.44 142.1,555.3" fill="none" stroke-width="1.15"/>
<line x1="142.5" y1="554.5" x2="142.5" y2="575.5"/>
<polygon points="138.9,573.7 146.1,573.7 142.5,577.7" fill="#262626" stroke="none"/>
<text x="136.8" y="549.3" font-size="5.4" class="sb" text-anchor="middle" transform="rotate(-90 136.8 549.3)">R101</text>
<text x="148.2" y="549.3" font-size="4.9" class="mb" text-anchor="middle" transform="rotate(-90 148.2 549.3)">49.9</text>
<polyline points="164.3,531.3 165.08,533 166.65,529.6 168.22,533 169.78,529.6 171.35,533 172.92,529.6 173.7,531.3" fill="none" stroke-width="1.15"/>
<line x1="174.5" y1="531.5" x2="196.5" y2="531.5"/>
<rect x="196.3" y="530.3" width="3" height="2" fill="#fff" stroke="none"/>
<line x1="196.5" y1="528.5" x2="196.5" y2="534.5" stroke-width="1.1"/>
<line x1="199.5" y1="528.5" x2="199.5" y2="534.5" stroke-width="1.1"/>
<line x1="198.5" y1="531.5" x2="245.5" y2="531.5"/>
<text x="170.5" y="528" font-size="5" class="sb" text-anchor="middle">R121</text>
<text x="170.5" y="538.1" font-size="4.8" class="mb" text-anchor="middle">10</text>
<text x="198" y="524.1" font-size="5.2" class="sb" text-anchor="middle">C101</text>
<text x="198" y="540.7" font-size="4.8" class="mb" text-anchor="middle">1000PF</text>
<text x="224.5" y="528.9" font-size="4.4" class="b" textLength="16" lengthAdjust="spacingAndGlyphs">TX MON1</text>
<text x="55.2" y="587.7" font-size="5" class="mb" textLength="54" lengthAdjust="spacingAndGlyphs">TX MONITOR 2 INPUT</text>
<text x="73" y="599.7" font-size="5" class="sb">J102</text>
<text x="84" y="601.7" font-size="4" class="b">1</text>
<text x="62.8" y="605.5" font-size="4.8" class="mb" textLength="7" lengthAdjust="spacingAndGlyphs">DNI</text>
<circle cx="79.2" cy="603.3" r="2.6" fill="none" stroke-width="1.1"/>
<line x1="81.5" y1="603.5" x2="164.5" y2="603.5"/>
<path d="M79.2,605.9 Q70,607.4 69.5,612.9 L69.5,622.3 L89.5,622.3 L89.5,612.9 Q89,607.4 79.2,605.9" fill="none"/>
<path d="M79.2,605.9 Q75.5,607.9 75.5,612.9 L75.5,622.3 M79.2,605.9 Q83,607.9 83,612.9 L83,622.3" fill="none"/>
<text x="67" y="616.3" font-size="4.6" class="b">2</text>
<text x="74" y="616.3" font-size="4.6" class="b">3</text>
<text x="80.6" y="616.3" font-size="4.6" class="b">4</text>
<text x="86.8" y="616.3" font-size="4.6" class="b">5</text>
<line x1="79.5" y1="622.5" x2="79.5" y2="633.5"/>
<polygon points="75.9,631.7 83.1,631.7 79.5,635.7" fill="#262626" stroke="none"/>
<circle cx="142.1" cy="603.3" r="1.4" fill="#262626" stroke="none"/>
<line x1="142.5" y1="603.5" x2="142.5" y2="616.5"/>
<polyline points="142.1,617 143.8,617.86 140.4,619.58 143.8,621.29 140.4,623.01 143.8,624.72 140.4,626.44 142.1,627.3" fill="none" stroke-width="1.15"/>
<line x1="142.5" y1="626.5" x2="142.5" y2="647.5"/>
<polygon points="138.9,645.7 146.1,645.7 142.5,649.7" fill="#262626" stroke="none"/>
<text x="136.8" y="621.3" font-size="5.4" class="sb" text-anchor="middle" transform="rotate(-90 136.8 621.3)">R102</text>
<text x="148.2" y="621.3" font-size="4.9" class="mb" text-anchor="middle" transform="rotate(-90 148.2 621.3)">49.9</text>
<polyline points="164.3,603.3 165.08,605 166.65,601.6 168.22,605 169.78,601.6 171.35,605 172.92,601.6 173.7,603.3" fill="none" stroke-width="1.15"/>
<line x1="174.5" y1="603.5" x2="196.5" y2="603.5"/>
<rect x="196.3" y="602.3" width="3" height="2" fill="#fff" stroke="none"/>
<line x1="196.5" y1="600.5" x2="196.5" y2="606.5" stroke-width="1.1"/>
<line x1="199.5" y1="600.5" x2="199.5" y2="606.5" stroke-width="1.1"/>
<line x1="198.5" y1="603.5" x2="245.5" y2="603.5"/>
<text x="170.5" y="600" font-size="5" class="sb" text-anchor="middle">R122</text>
<text x="170.5" y="610.1" font-size="4.8" class="mb" text-anchor="middle">10</text>
<text x="198" y="596.1" font-size="5.2" class="sb" text-anchor="middle">C102</text>
<text x="198" y="612.7" font-size="4.8" class="mb" text-anchor="middle">1000PF</text>
<text x="224.5" y="600.9" font-size="4.4" class="b" textLength="16" lengthAdjust="spacingAndGlyphs">TX MON2</text>
<line x1="798.5" y1="1.5" x2="906.5" y2="1.5" stroke-width="1.2"/>
<line x1="798.5" y1="1.5" x2="798.5" y2="24.5" stroke-width="1.2"/>
<line x1="821.5" y1="1.5" x2="821.5" y2="24.5" stroke-width="1.2"/>
<line x1="798.8" y1="12" x2="906" y2="12" stroke-width="2" stroke="#4a4a4a"/>
<text x="811" y="8.3" font-size="5.8" class="mb" text-anchor="middle" textLength="11" lengthAdjust="spacingAndGlyphs">REV</text>
<text x="870.4" y="8.3" font-size="5.8" class="mb" text-anchor="middle" textLength="39" lengthAdjust="spacingAndGlyphs">DESCRIPTION</text>
<line x1="696.7" y1="601.4" x2="906" y2="601.4" stroke-width="1.5"/>
<line x1="696.7" y1="601.4" x2="696.7" y2="647" stroke-width="1.5"/>
<line x1="773.5" y1="601.5" x2="773.5" y2="647.5" stroke-width="1.2"/>
<line x1="773.5" y1="612.5" x2="906.5" y2="612.5"/>
<line x1="773.5" y1="613.5" x2="906.5" y2="613.5" stroke-width="0.6"/>
<line x1="696.5" y1="634.5" x2="906.5" y2="634.5"/>
<line x1="902.5" y1="634.5" x2="902.5" y2="647.5"/>
<rect x="706.2" y="608.6" width="18.4" height="18.8" rx="1" fill="#1a1a1a" stroke="none"/>
<polygon points="711,612.5 711,623.5 720.5,618" fill="#fff" stroke="none"/>
<text x="727.2" y="617" font-size="6.6" class="t s2" textLength="30" lengthAdjust="spacing">ANALOG</text>
<text x="727.2" y="623.2" font-size="6.6" class="t s2" textLength="30" lengthAdjust="spacing">DEVICES</text>
<text x="903.4" y="610.2" font-size="9" class="mono" text-anchor="end" textLength="45" lengthAdjust="spacingAndGlyphs">SCHEMATIC</text>
<text x="777.7" y="617.6" font-size="5.4" class="mb" textLength="80" lengthAdjust="spacingAndGlyphs">BM TYPE    : AD-FMCOMMS3-EBZ</text>
<text x="777.7" y="625.2" font-size="5.4" class="mb" textLength="53" lengthAdjust="spacingAndGlyphs">Product(s): ad9361</text>
<text x="807.5" y="630.6" font-size="5" class="mb">:</text>
<text x="777.7" y="638" font-size="4.6" class="mb" textLength="24" lengthAdjust="spacingAndGlyphs">DESIGN VIEW</text>
<text x="780" y="645" font-size="5.4" class="mb" textLength="39" lengthAdjust="spacingAndGlyphs">&lt;DESIGN_VIEW&gt;</text>
<text x="699" y="637.8" font-size="2.4" class="t b" textLength="52" lengthAdjust="spacingAndGlyphs">Information furnished by Analog Devices is believed</text>
<text x="699" y="640.7" font-size="2.4" class="t b" textLength="52" lengthAdjust="spacingAndGlyphs">Information furnished by Analog Devices is believed</text>
<text x="699" y="643.6" font-size="2.4" class="t b" textLength="53" lengthAdjust="spacingAndGlyphs">Information furnished by Analog Devices is believed</text>
<text x="699" y="646.5" font-size="2.4" class="t b" textLength="50" lengthAdjust="spacingAndGlyphs">Information furnished by Analog Devices is believed</text>
<polygon points="559.5,232.5 559.5,248.6 563.4,244.9 566.9,252.3 569.7,251.1 566.3,243.7 571,243.7" fill="#fff" stroke="#000" stroke-width="1" stroke-linejoin="miter"/>
</svg></body></html>
